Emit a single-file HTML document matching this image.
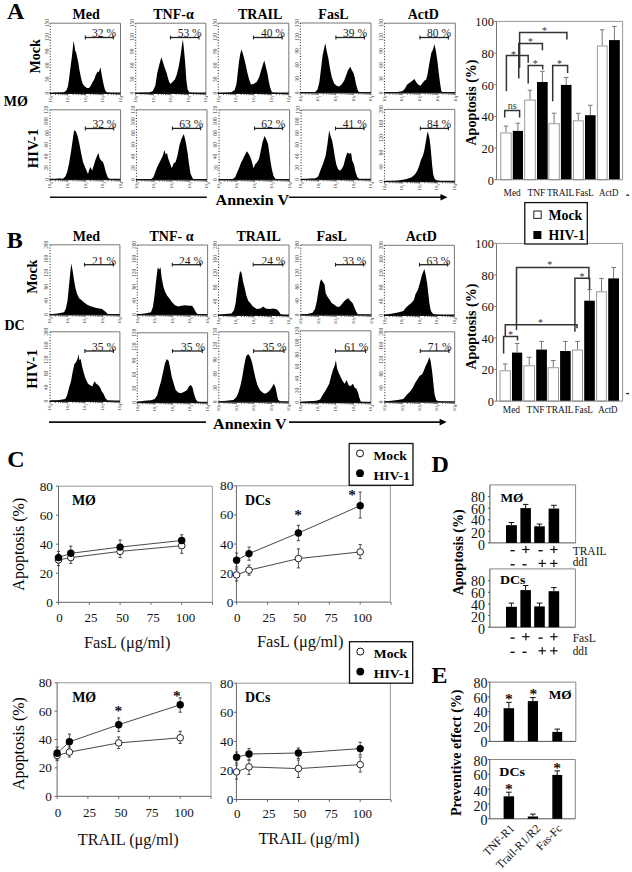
<!DOCTYPE html>
<html><head><meta charset="utf-8"><title>Figure</title>
<style>html,body{margin:0;padding:0;background:#fff;width:632px;height:872px;overflow:hidden}
svg text{font-family:"Liberation Serif",serif}</style></head>
<body>
<svg width="632" height="872" viewBox="0 0 632 872" style="position:absolute;left:0;top:0;font-family:'Liberation Serif',serif">
<rect x="0" y="0" width="632" height="872" fill="#fff"/>
<text x="6.9" y="18.9" font-size="24" font-weight="bold" text-anchor="start" fill="#000">A</text>
<text x="6.8" y="247.8" font-size="24" font-weight="bold" text-anchor="start" fill="#000">B</text>
<text x="7.2" y="467" font-size="24" font-weight="bold" text-anchor="start" fill="#000">C</text>
<text x="431.6" y="471.8" font-size="24" font-weight="bold" text-anchor="start" fill="#000">D</text>
<text x="431.6" y="682.8" font-size="24" font-weight="bold" text-anchor="start" fill="#000">E</text>
<text x="86.1" y="19.2" font-size="14" font-weight="bold" text-anchor="middle" fill="#000">Med</text>
<text x="173.5" y="19.2" font-size="14" font-weight="bold" text-anchor="middle" fill="#000">TNF-&#945;</text>
<text x="260.2" y="19.2" font-size="14" font-weight="bold" text-anchor="middle" fill="#000">TRAIL</text>
<text x="333.5" y="19.2" font-size="14" font-weight="bold" text-anchor="middle" fill="#000">FasL</text>
<text x="423.2" y="19.2" font-size="14" font-weight="bold" text-anchor="middle" fill="#000">ActD</text>
<text x="86.4" y="240.9" font-size="14" font-weight="bold" text-anchor="middle" fill="#000">Med</text>
<text x="171.5" y="240.9" font-size="14" font-weight="bold" text-anchor="middle" fill="#000">TNF- &#945;</text>
<text x="258.6" y="240.9" font-size="14" font-weight="bold" text-anchor="middle" fill="#000">TRAIL</text>
<text x="331.7" y="240.9" font-size="14" font-weight="bold" text-anchor="middle" fill="#000">FasL</text>
<text x="421.2" y="240.9" font-size="14" font-weight="bold" text-anchor="middle" fill="#000">ActD</text>
<text x="40" y="56.3" font-size="14" font-weight="bold" text-anchor="middle" fill="#000" transform="rotate(-90 40 56.3)">Mock</text>
<text x="38.3" y="148.5" font-size="14" font-weight="bold" text-anchor="middle" fill="#000" transform="rotate(-90 38.3 148.5)" textLength="39.5" lengthAdjust="spacingAndGlyphs">HIV-1</text>
<text x="3.7" y="106.2" font-size="14" font-weight="bold" text-anchor="start" fill="#000">M&#216;</text>
<text x="36.6" y="276.7" font-size="14" font-weight="bold" text-anchor="middle" fill="#000" transform="rotate(-90 36.6 276.7)">Mock</text>
<text x="36.6" y="369" font-size="14" font-weight="bold" text-anchor="middle" fill="#000" transform="rotate(-90 36.6 369)" textLength="39.5" lengthAdjust="spacingAndGlyphs">HIV-1</text>
<text x="4.4" y="330" font-size="14" font-weight="bold" text-anchor="start" fill="#000">DC</text>
<path d="M50.3 23.2 H120.5 V93.2" fill="none" stroke="#777" stroke-width="1"/>
<line x1="50.3" y1="23.2" x2="50.3" y2="93.2" stroke="#333" stroke-width="1.1" stroke-dasharray="1 1.75"/>
<path d="M50.8 93.2 L55 92.7 L60 92.6 L64 92.3 L66.3 90.4 L67.9 86.4 L69.1 78.5 L70.1 70.6 L71.1 62.7 L71.9 56.4 L72.7 49.2 L73.3 42.9 L73.6 41 L74.4 45.3 L75.2 50.8 L76.2 52.4 L76.8 55.6 L77.8 60.3 L78.6 64.3 L79.4 69.8 L80.2 73.8 L81 77.7 L82.2 82.5 L83.3 84.8 L84.9 86.4 L86.9 88 L88.9 88 L90.1 86.8 L91.3 84.8 L92.4 82.5 L93.6 80.5 L94.8 78.1 L95.6 75.3 L96.8 73 L97.6 71.4 L98.8 72.2 L99.6 69.8 L100.3 67.2 L101 70.6 L101.8 75.3 L102.7 80.1 L103.5 84 L104.7 88.8 L105.9 91.6 L107.5 92.6 L110 92.8 L120 93.2 Z" fill="#000"/>
<line x1="49.8" y1="93.2" x2="120.5" y2="93.2" stroke="#111" stroke-width="1.5"/>
<path d="M50.3 93.9V95.6M55.6 93.9V95.1M58.7 93.9V95.1M60.9 93.9V95.1M62.6 93.9V95.1M64 93.9V95.1M65.1 93.9V95.1M66.1 93.9V95.1M67 93.9V95.1M67.8 93.9V95.6M73.1 93.9V95.1M76.2 93.9V95.1M78.4 93.9V95.1M80.1 93.9V95.1M81.5 93.9V95.1M82.7 93.9V95.1M83.7 93.9V95.1M84.6 93.9V95.1M85.4 93.9V95.6M90.7 93.9V95.1M93.8 93.9V95.1M96 93.9V95.1M97.7 93.9V95.1M99.1 93.9V95.1M100.2 93.9V95.1M101.2 93.9V95.1M102.1 93.9V95.1M103 93.9V95.6M108.2 93.9V95.1M111.3 93.9V95.1M113.5 93.9V95.1M115.2 93.9V95.1M116.6 93.9V95.1M117.8 93.9V95.1M118.8 93.9V95.1M119.7 93.9V95.1M120.5 93.9V95.6" stroke="#444" stroke-width="0.8" fill="none"/>
<text x="51.6" y="102.5" font-size="4.9" fill="#333" transform="rotate(-90 51.6 102.5)">10</text>
<text x="52.9" y="97.8" font-size="3.6" fill="#444" transform="rotate(-90 52.9 97.8)">0</text>
<text x="69.1" y="102.5" font-size="4.9" fill="#333" transform="rotate(-90 69.1 102.5)">10</text>
<text x="70.4" y="97.8" font-size="3.6" fill="#444" transform="rotate(-90 70.4 97.8)">1</text>
<text x="86.7" y="102.5" font-size="4.9" fill="#333" transform="rotate(-90 86.7 102.5)">10</text>
<text x="88" y="97.8" font-size="3.6" fill="#444" transform="rotate(-90 88 97.8)">2</text>
<text x="104.2" y="102.5" font-size="4.9" fill="#333" transform="rotate(-90 104.2 102.5)">10</text>
<text x="105.5" y="97.8" font-size="3.6" fill="#444" transform="rotate(-90 105.5 97.8)">3</text>
<text x="121.8" y="102.5" font-size="4.9" fill="#333" transform="rotate(-90 121.8 102.5)">10</text>
<text x="123.1" y="97.8" font-size="3.6" fill="#444" transform="rotate(-90 123.1 97.8)">4</text>
<text x="48.7" y="93.2" font-size="5.4" fill="#444" text-anchor="middle" transform="rotate(-90 48.7 93.2)">0</text>
<text x="48.7" y="79.2" font-size="5.4" fill="#444" text-anchor="middle" transform="rotate(-90 48.7 79.2)">30</text>
<text x="48.7" y="65.2" font-size="5.4" fill="#444" text-anchor="middle" transform="rotate(-90 48.7 65.2)">60</text>
<text x="48.7" y="51.2" font-size="5.4" fill="#444" text-anchor="middle" transform="rotate(-90 48.7 51.2)">90</text>
<text x="48.7" y="37.2" font-size="5.4" fill="#444" text-anchor="middle" transform="rotate(-90 48.7 37.2)">120</text>
<text x="48.7" y="23.2" font-size="5.4" fill="#444" text-anchor="middle" transform="rotate(-90 48.7 23.2)">150</text>
<line x1="85.3" y1="37.5" x2="113.4" y2="37.5" stroke="#222" stroke-width="1.3"/>
<line x1="85.3" y1="35.6" x2="85.3" y2="39.4" stroke="#222" stroke-width="1.1"/>
<line x1="113.4" y1="35.6" x2="113.4" y2="39.4" stroke="#222" stroke-width="1.1"/>
<text x="116.1" y="37.3" font-size="13" text-anchor="end" fill="#222" textLength="24" lengthAdjust="spacingAndGlyphs">32 %</text>
<path d="M135.7 23.2 H205.9 V93.2" fill="none" stroke="#777" stroke-width="1"/>
<line x1="135.7" y1="23.2" x2="135.7" y2="93.2" stroke="#333" stroke-width="1.1" stroke-dasharray="1 1.75"/>
<path d="M136.2 93.2 L140 92.7 L149.6 92.4 L152.8 90.9 L155.3 85.8 L157.2 73.2 L159.1 65.6 L161.4 57.3 L163.2 63 L164.8 68.1 L166.7 73.2 L168 78.2 L169.2 82 L170.5 83.9 L172.4 82 L174.9 79.5 L176.8 74.4 L178.7 66.8 L180.6 55.4 L181.9 45.3 L182.9 39.6 L183.8 47.8 L185.1 61.8 L186.3 79.5 L187.6 89.6 L189.5 92.8 L205.4 93.2 Z" fill="#000"/>
<line x1="135.2" y1="93.2" x2="205.9" y2="93.2" stroke="#111" stroke-width="1.5"/>
<path d="M135.7 93.9V95.6M141 93.9V95.1M144.1 93.9V95.1M146.3 93.9V95.1M148 93.9V95.1M149.4 93.9V95.1M150.5 93.9V95.1M151.5 93.9V95.1M152.4 93.9V95.1M153.2 93.9V95.6M158.5 93.9V95.1M161.6 93.9V95.1M163.8 93.9V95.1M165.5 93.9V95.1M166.9 93.9V95.1M168.1 93.9V95.1M169.1 93.9V95.1M170 93.9V95.1M170.8 93.9V95.6M176.1 93.9V95.1M179.2 93.9V95.1M181.4 93.9V95.1M183.1 93.9V95.1M184.5 93.9V95.1M185.6 93.9V95.1M186.6 93.9V95.1M187.5 93.9V95.1M188.3 93.9V95.6M193.6 93.9V95.1M196.7 93.9V95.1M198.9 93.9V95.1M200.6 93.9V95.1M202 93.9V95.1M203.2 93.9V95.1M204.2 93.9V95.1M205.1 93.9V95.1M205.9 93.9V95.6" stroke="#444" stroke-width="0.8" fill="none"/>
<text x="137" y="102.5" font-size="4.9" fill="#333" transform="rotate(-90 137 102.5)">10</text>
<text x="138.3" y="97.8" font-size="3.6" fill="#444" transform="rotate(-90 138.3 97.8)">0</text>
<text x="154.6" y="102.5" font-size="4.9" fill="#333" transform="rotate(-90 154.6 102.5)">10</text>
<text x="155.8" y="97.8" font-size="3.6" fill="#444" transform="rotate(-90 155.8 97.8)">1</text>
<text x="172.1" y="102.5" font-size="4.9" fill="#333" transform="rotate(-90 172.1 102.5)">10</text>
<text x="173.4" y="97.8" font-size="3.6" fill="#444" transform="rotate(-90 173.4 97.8)">2</text>
<text x="189.7" y="102.5" font-size="4.9" fill="#333" transform="rotate(-90 189.7 102.5)">10</text>
<text x="190.9" y="97.8" font-size="3.6" fill="#444" transform="rotate(-90 190.9 97.8)">3</text>
<text x="207.2" y="102.5" font-size="4.9" fill="#333" transform="rotate(-90 207.2 102.5)">10</text>
<text x="208.5" y="97.8" font-size="3.6" fill="#444" transform="rotate(-90 208.5 97.8)">4</text>
<text x="134.1" y="93.2" font-size="5.4" fill="#444" text-anchor="middle" transform="rotate(-90 134.1 93.2)">0</text>
<text x="134.1" y="79.2" font-size="5.4" fill="#444" text-anchor="middle" transform="rotate(-90 134.1 79.2)">30</text>
<text x="134.1" y="65.2" font-size="5.4" fill="#444" text-anchor="middle" transform="rotate(-90 134.1 65.2)">60</text>
<text x="134.1" y="51.2" font-size="5.4" fill="#444" text-anchor="middle" transform="rotate(-90 134.1 51.2)">90</text>
<text x="134.1" y="37.2" font-size="5.4" fill="#444" text-anchor="middle" transform="rotate(-90 134.1 37.2)">120</text>
<text x="134.1" y="23.2" font-size="5.4" fill="#444" text-anchor="middle" transform="rotate(-90 134.1 23.2)">150</text>
<line x1="170.5" y1="37.5" x2="199" y2="37.5" stroke="#222" stroke-width="1.3"/>
<line x1="170.5" y1="35.6" x2="170.5" y2="39.4" stroke="#222" stroke-width="1.1"/>
<line x1="199" y1="35.6" x2="199" y2="39.4" stroke="#222" stroke-width="1.1"/>
<text x="201.7" y="37.3" font-size="13" text-anchor="end" fill="#222" textLength="24" lengthAdjust="spacingAndGlyphs">53 %</text>
<path d="M218.3 23.2 H288.8 V93.2" fill="none" stroke="#777" stroke-width="1"/>
<line x1="218.3" y1="23.2" x2="218.3" y2="93.2" stroke="#333" stroke-width="1.1" stroke-dasharray="1 1.75"/>
<path d="M218.8 93.2 L225 92.7 L230.7 92.4 L234.5 90.3 L236.4 84.6 L237.7 73.2 L239 61.8 L240.2 54.2 L241.5 49.4 L243.4 55.4 L245.3 63 L247.2 71.9 L249.1 79.5 L251 84.6 L253.5 83.9 L256.7 82 L259.2 77 L261.1 70.6 L263 64.3 L264.3 60.5 L265.5 65.6 L267.4 73.2 L268.7 80.8 L270 87.1 L271.9 92.2 L273.8 92.8 L288.3 93.2 Z" fill="#000"/>
<line x1="217.8" y1="93.2" x2="288.8" y2="93.2" stroke="#111" stroke-width="1.5"/>
<path d="M218.3 93.9V95.6M223.6 93.9V95.1M226.7 93.9V95.1M228.9 93.9V95.1M230.6 93.9V95.1M232 93.9V95.1M233.2 93.9V95.1M234.2 93.9V95.1M235.1 93.9V95.1M235.9 93.9V95.6M241.2 93.9V95.1M244.3 93.9V95.1M246.5 93.9V95.1M248.2 93.9V95.1M249.6 93.9V95.1M250.8 93.9V95.1M251.8 93.9V95.1M252.7 93.9V95.1M253.6 93.9V95.6M258.9 93.9V95.1M262 93.9V95.1M264.2 93.9V95.1M265.9 93.9V95.1M267.3 93.9V95.1M268.4 93.9V95.1M269.5 93.9V95.1M270.4 93.9V95.1M271.2 93.9V95.6M276.5 93.9V95.1M279.6 93.9V95.1M281.8 93.9V95.1M283.5 93.9V95.1M284.9 93.9V95.1M286.1 93.9V95.1M287.1 93.9V95.1M288 93.9V95.1M288.8 93.9V95.6" stroke="#444" stroke-width="0.8" fill="none"/>
<text x="219.6" y="102.5" font-size="4.9" fill="#333" transform="rotate(-90 219.6 102.5)">10</text>
<text x="220.9" y="97.8" font-size="3.6" fill="#444" transform="rotate(-90 220.9 97.8)">0</text>
<text x="237.2" y="102.5" font-size="4.9" fill="#333" transform="rotate(-90 237.2 102.5)">10</text>
<text x="238.5" y="97.8" font-size="3.6" fill="#444" transform="rotate(-90 238.5 97.8)">1</text>
<text x="254.9" y="102.5" font-size="4.9" fill="#333" transform="rotate(-90 254.9 102.5)">10</text>
<text x="256.2" y="97.8" font-size="3.6" fill="#444" transform="rotate(-90 256.2 97.8)">2</text>
<text x="272.5" y="102.5" font-size="4.9" fill="#333" transform="rotate(-90 272.5 102.5)">10</text>
<text x="273.8" y="97.8" font-size="3.6" fill="#444" transform="rotate(-90 273.8 97.8)">3</text>
<text x="290.1" y="102.5" font-size="4.9" fill="#333" transform="rotate(-90 290.1 102.5)">10</text>
<text x="291.4" y="97.8" font-size="3.6" fill="#444" transform="rotate(-90 291.4 97.8)">4</text>
<text x="216.7" y="93.2" font-size="5.4" fill="#444" text-anchor="middle" transform="rotate(-90 216.7 93.2)">0</text>
<text x="216.7" y="79.2" font-size="5.4" fill="#444" text-anchor="middle" transform="rotate(-90 216.7 79.2)">30</text>
<text x="216.7" y="65.2" font-size="5.4" fill="#444" text-anchor="middle" transform="rotate(-90 216.7 65.2)">60</text>
<text x="216.7" y="51.2" font-size="5.4" fill="#444" text-anchor="middle" transform="rotate(-90 216.7 51.2)">90</text>
<text x="216.7" y="37.2" font-size="5.4" fill="#444" text-anchor="middle" transform="rotate(-90 216.7 37.2)">120</text>
<text x="216.7" y="23.2" font-size="5.4" fill="#444" text-anchor="middle" transform="rotate(-90 216.7 23.2)">150</text>
<line x1="253.5" y1="37.5" x2="282.2" y2="37.5" stroke="#222" stroke-width="1.3"/>
<line x1="253.5" y1="35.6" x2="253.5" y2="39.4" stroke="#222" stroke-width="1.1"/>
<line x1="282.2" y1="35.6" x2="282.2" y2="39.4" stroke="#222" stroke-width="1.1"/>
<text x="284.9" y="37.3" font-size="13" text-anchor="end" fill="#222" textLength="24" lengthAdjust="spacingAndGlyphs">40 %</text>
<path d="M300.4 23 H371 V92.8" fill="none" stroke="#777" stroke-width="1"/>
<line x1="300.4" y1="23" x2="300.4" y2="92.8" stroke="#333" stroke-width="1.1" stroke-dasharray="1 1.75"/>
<path d="M300.9 92.8 L306 92.3 L315 92.2 L317.5 89.6 L319.4 82 L321.1 68.1 L322.6 55.4 L324.5 46.6 L325.4 43.4 L326.6 50.4 L328.3 58 L329.9 68.1 L331.7 77 L334 83.3 L336.5 85.8 L339 86.5 L341.6 84.6 L344.1 80.8 L346 75.7 L347.9 70.6 L350.2 66.8 L351.7 70 L353.6 73.2 L354.9 78.2 L356.1 84.6 L358 90.9 L359.9 92.4 L370.5 92.8 Z" fill="#000"/>
<line x1="299.9" y1="92.8" x2="371" y2="92.8" stroke="#111" stroke-width="1.5"/>
<path d="M300.4 93.5V95.2M305.7 93.5V94.7M308.8 93.5V94.7M311 93.5V94.7M312.7 93.5V94.7M314.1 93.5V94.7M315.3 93.5V94.7M316.3 93.5V94.7M317.2 93.5V94.7M318 93.5V95.2M323.4 93.5V94.7M326.5 93.5V94.7M328.7 93.5V94.7M330.4 93.5V94.7M331.8 93.5V94.7M333 93.5V94.7M334 93.5V94.7M334.9 93.5V94.7M335.7 93.5V95.2M341 93.5V94.7M344.1 93.5V94.7M346.3 93.5V94.7M348 93.5V94.7M349.4 93.5V94.7M350.6 93.5V94.7M351.6 93.5V94.7M352.5 93.5V94.7M353.4 93.5V95.2M358.7 93.5V94.7M361.8 93.5V94.7M364 93.5V94.7M365.7 93.5V94.7M367.1 93.5V94.7M368.3 93.5V94.7M369.3 93.5V94.7M370.2 93.5V94.7M371 93.5V95.2" stroke="#444" stroke-width="0.8" fill="none"/>
<text x="301.7" y="102.1" font-size="4.9" fill="#333" transform="rotate(-90 301.7 102.1)">10</text>
<text x="303" y="97.4" font-size="3.6" fill="#444" transform="rotate(-90 303 97.4)">0</text>
<text x="319.3" y="102.1" font-size="4.9" fill="#333" transform="rotate(-90 319.3 102.1)">10</text>
<text x="320.6" y="97.4" font-size="3.6" fill="#444" transform="rotate(-90 320.6 97.4)">1</text>
<text x="337" y="102.1" font-size="4.9" fill="#333" transform="rotate(-90 337 102.1)">10</text>
<text x="338.3" y="97.4" font-size="3.6" fill="#444" transform="rotate(-90 338.3 97.4)">2</text>
<text x="354.7" y="102.1" font-size="4.9" fill="#333" transform="rotate(-90 354.7 102.1)">10</text>
<text x="356" y="97.4" font-size="3.6" fill="#444" transform="rotate(-90 356 97.4)">3</text>
<text x="372.3" y="102.1" font-size="4.9" fill="#333" transform="rotate(-90 372.3 102.1)">10</text>
<text x="373.6" y="97.4" font-size="3.6" fill="#444" transform="rotate(-90 373.6 97.4)">4</text>
<text x="298.8" y="92.8" font-size="5.4" fill="#444" text-anchor="middle" transform="rotate(-90 298.8 92.8)">0</text>
<text x="298.8" y="78.8" font-size="5.4" fill="#444" text-anchor="middle" transform="rotate(-90 298.8 78.8)">30</text>
<text x="298.8" y="64.9" font-size="5.4" fill="#444" text-anchor="middle" transform="rotate(-90 298.8 64.9)">60</text>
<text x="298.8" y="50.9" font-size="5.4" fill="#444" text-anchor="middle" transform="rotate(-90 298.8 50.9)">90</text>
<text x="298.8" y="37" font-size="5.4" fill="#444" text-anchor="middle" transform="rotate(-90 298.8 37)">120</text>
<text x="298.8" y="23" font-size="5.4" fill="#444" text-anchor="middle" transform="rotate(-90 298.8 23)">150</text>
<line x1="335.9" y1="37.5" x2="364.4" y2="37.5" stroke="#222" stroke-width="1.3"/>
<line x1="335.9" y1="35.6" x2="335.9" y2="39.4" stroke="#222" stroke-width="1.1"/>
<line x1="364.4" y1="35.6" x2="364.4" y2="39.4" stroke="#222" stroke-width="1.1"/>
<text x="367.1" y="37.3" font-size="13" text-anchor="end" fill="#222" textLength="24" lengthAdjust="spacingAndGlyphs">39 %</text>
<path d="M384.5 23.2 H455.3 V92.8" fill="none" stroke="#777" stroke-width="1"/>
<line x1="384.5" y1="23.2" x2="384.5" y2="92.8" stroke="#333" stroke-width="1.1" stroke-dasharray="1 1.75"/>
<path d="M385 92.8 L390 92.3 L395.2 92.2 L402.2 91.3 L404.7 89 L407.2 84.6 L409.7 82.7 L412.3 80.8 L414.4 78.9 L416.1 82 L418 84.6 L420.5 85.8 L422.4 83.3 L424.3 80.8 L426.2 79.5 L427.5 74.4 L429.4 63 L431.3 52.9 L433.2 49.1 L434.4 44 L436 51.6 L437.5 61.8 L438.8 73.2 L440.1 83.3 L441.3 90.9 L443 92.4 L454.8 92.8 Z" fill="#000"/>
<line x1="384" y1="92.8" x2="455.3" y2="92.8" stroke="#111" stroke-width="1.5"/>
<path d="M384.5 93.5V95.2M389.8 93.5V94.7M392.9 93.5V94.7M395.2 93.5V94.7M396.9 93.5V94.7M398.3 93.5V94.7M399.5 93.5V94.7M400.5 93.5V94.7M401.4 93.5V94.7M402.2 93.5V95.2M407.5 93.5V94.7M410.6 93.5V94.7M412.9 93.5V94.7M414.6 93.5V94.7M416 93.5V94.7M417.2 93.5V94.7M418.2 93.5V94.7M419.1 93.5V94.7M419.9 93.5V95.2M425.2 93.5V94.7M428.3 93.5V94.7M430.6 93.5V94.7M432.3 93.5V94.7M433.7 93.5V94.7M434.9 93.5V94.7M435.9 93.5V94.7M436.8 93.5V94.7M437.6 93.5V95.2M442.9 93.5V94.7M446 93.5V94.7M448.3 93.5V94.7M450 93.5V94.7M451.4 93.5V94.7M452.6 93.5V94.7M453.6 93.5V94.7M454.5 93.5V94.7M455.3 93.5V95.2" stroke="#444" stroke-width="0.8" fill="none"/>
<text x="385.8" y="102.1" font-size="4.9" fill="#333" transform="rotate(-90 385.8 102.1)">10</text>
<text x="387.1" y="97.4" font-size="3.6" fill="#444" transform="rotate(-90 387.1 97.4)">0</text>
<text x="403.5" y="102.1" font-size="4.9" fill="#333" transform="rotate(-90 403.5 102.1)">10</text>
<text x="404.8" y="97.4" font-size="3.6" fill="#444" transform="rotate(-90 404.8 97.4)">1</text>
<text x="421.2" y="102.1" font-size="4.9" fill="#333" transform="rotate(-90 421.2 102.1)">10</text>
<text x="422.5" y="97.4" font-size="3.6" fill="#444" transform="rotate(-90 422.5 97.4)">2</text>
<text x="438.9" y="102.1" font-size="4.9" fill="#333" transform="rotate(-90 438.9 102.1)">10</text>
<text x="440.2" y="97.4" font-size="3.6" fill="#444" transform="rotate(-90 440.2 97.4)">3</text>
<text x="456.6" y="102.1" font-size="4.9" fill="#333" transform="rotate(-90 456.6 102.1)">10</text>
<text x="457.9" y="97.4" font-size="3.6" fill="#444" transform="rotate(-90 457.9 97.4)">4</text>
<text x="382.9" y="92.8" font-size="5.4" fill="#444" text-anchor="middle" transform="rotate(-90 382.9 92.8)">0</text>
<text x="382.9" y="78.9" font-size="5.4" fill="#444" text-anchor="middle" transform="rotate(-90 382.9 78.9)">30</text>
<text x="382.9" y="65" font-size="5.4" fill="#444" text-anchor="middle" transform="rotate(-90 382.9 65)">60</text>
<text x="382.9" y="51" font-size="5.4" fill="#444" text-anchor="middle" transform="rotate(-90 382.9 51)">90</text>
<text x="382.9" y="37.1" font-size="5.4" fill="#444" text-anchor="middle" transform="rotate(-90 382.9 37.1)">120</text>
<text x="382.9" y="23.2" font-size="5.4" fill="#444" text-anchor="middle" transform="rotate(-90 382.9 23.2)">150</text>
<line x1="419.9" y1="37.5" x2="448.4" y2="37.5" stroke="#222" stroke-width="1.3"/>
<line x1="419.9" y1="35.6" x2="419.9" y2="39.4" stroke="#222" stroke-width="1.1"/>
<line x1="448.4" y1="35.6" x2="448.4" y2="39.4" stroke="#222" stroke-width="1.1"/>
<text x="451.1" y="37.3" font-size="13" text-anchor="end" fill="#222" textLength="24" lengthAdjust="spacingAndGlyphs">80 %</text>
<path d="M50.1 109.8 H120.6 V179.5" fill="none" stroke="#777" stroke-width="1"/>
<line x1="50.1" y1="109.8" x2="50.1" y2="179.5" stroke="#333" stroke-width="1.1" stroke-dasharray="1 1.75"/>
<path d="M50.6 179.5 L55 178.9 L60 178.6 L62.7 178.9 L65.3 176.5 L67.2 172.1 L69.1 163.2 L71 151.8 L72.8 139.2 L74.1 130.3 L76 131.6 L77.7 136.6 L79.2 143 L81.1 153.1 L83 162 L85.5 168.3 L88 174 L89.3 169.6 L90.6 167 L92.1 170.8 L93.7 165.8 L95.6 159.4 L97.2 155.6 L98.4 153.1 L99.7 158.2 L101.3 160.7 L103 162 L104.2 165.8 L105.8 172.1 L107.7 177.2 L109.6 179 L120.1 179.5 Z" fill="#000"/>
<line x1="49.6" y1="179.5" x2="120.6" y2="179.5" stroke="#111" stroke-width="1.5"/>
<path d="M50.1 180.2V181.9M55.4 180.2V181.4M58.5 180.2V181.4M60.7 180.2V181.4M62.4 180.2V181.4M63.8 180.2V181.4M65 180.2V181.4M66 180.2V181.4M66.9 180.2V181.4M67.7 180.2V181.9M73 180.2V181.4M76.1 180.2V181.4M78.3 180.2V181.4M80 180.2V181.4M81.4 180.2V181.4M82.6 180.2V181.4M83.6 180.2V181.4M84.5 180.2V181.4M85.3 180.2V181.9M90.7 180.2V181.4M93.8 180.2V181.4M96 180.2V181.4M97.7 180.2V181.4M99.1 180.2V181.4M100.2 180.2V181.4M101.3 180.2V181.4M102.2 180.2V181.4M103 180.2V181.9M108.3 180.2V181.4M111.4 180.2V181.4M113.6 180.2V181.4M115.3 180.2V181.4M116.7 180.2V181.4M117.9 180.2V181.4M118.9 180.2V181.4M119.8 180.2V181.4M120.6 180.2V181.9" stroke="#444" stroke-width="0.8" fill="none"/>
<text x="51.4" y="188.8" font-size="4.9" fill="#333" transform="rotate(-90 51.4 188.8)">10</text>
<text x="52.7" y="184.1" font-size="3.6" fill="#444" transform="rotate(-90 52.7 184.1)">0</text>
<text x="69" y="188.8" font-size="4.9" fill="#333" transform="rotate(-90 69 188.8)">10</text>
<text x="70.3" y="184.1" font-size="3.6" fill="#444" transform="rotate(-90 70.3 184.1)">1</text>
<text x="86.6" y="188.8" font-size="4.9" fill="#333" transform="rotate(-90 86.6 188.8)">10</text>
<text x="87.9" y="184.1" font-size="3.6" fill="#444" transform="rotate(-90 87.9 184.1)">2</text>
<text x="104.3" y="188.8" font-size="4.9" fill="#333" transform="rotate(-90 104.3 188.8)">10</text>
<text x="105.6" y="184.1" font-size="3.6" fill="#444" transform="rotate(-90 105.6 184.1)">3</text>
<text x="121.9" y="188.8" font-size="4.9" fill="#333" transform="rotate(-90 121.9 188.8)">10</text>
<text x="123.2" y="184.1" font-size="3.6" fill="#444" transform="rotate(-90 123.2 184.1)">4</text>
<text x="48.5" y="179.5" font-size="5.4" fill="#444" text-anchor="middle" transform="rotate(-90 48.5 179.5)">0</text>
<text x="48.5" y="167.9" font-size="5.4" fill="#444" text-anchor="middle" transform="rotate(-90 48.5 167.9)">20</text>
<text x="48.5" y="156.3" font-size="5.4" fill="#444" text-anchor="middle" transform="rotate(-90 48.5 156.3)">40</text>
<text x="48.5" y="144.7" font-size="5.4" fill="#444" text-anchor="middle" transform="rotate(-90 48.5 144.7)">60</text>
<text x="48.5" y="133" font-size="5.4" fill="#444" text-anchor="middle" transform="rotate(-90 48.5 133)">80</text>
<text x="48.5" y="121.4" font-size="5.4" fill="#444" text-anchor="middle" transform="rotate(-90 48.5 121.4)">100</text>
<text x="48.5" y="109.8" font-size="5.4" fill="#444" text-anchor="middle" transform="rotate(-90 48.5 109.8)">120</text>
<line x1="85.3" y1="128.5" x2="113.7" y2="128.5" stroke="#222" stroke-width="1.3"/>
<line x1="85.3" y1="126.6" x2="85.3" y2="130.4" stroke="#222" stroke-width="1.1"/>
<line x1="113.7" y1="126.6" x2="113.7" y2="130.4" stroke="#222" stroke-width="1.1"/>
<text x="116.4" y="128.3" font-size="13" text-anchor="end" fill="#222" textLength="24" lengthAdjust="spacingAndGlyphs">32 %</text>
<path d="M136.5 109.8 H207 V179.7" fill="none" stroke="#777" stroke-width="1"/>
<line x1="136.5" y1="109.8" x2="136.5" y2="179.7" stroke="#333" stroke-width="1.1" stroke-dasharray="1 1.75"/>
<path d="M137 179.7 L142 179.2 L150.9 179.2 L153.4 177.2 L155.3 172.1 L157.2 167 L159.1 163.2 L161 159.4 L162.9 155.6 L164.4 149.9 L165.7 154.4 L167 153.1 L168.2 158.2 L169.9 163.2 L171.8 168.3 L173.7 163.2 L175.6 162 L177.5 155.6 L179.4 145.5 L181.3 139.2 L183.8 134.1 L185.7 141.7 L187.6 153.1 L188.9 163.2 L190.5 173.4 L192.7 178.4 L194.6 179.2 L206.5 179.7 Z" fill="#000"/>
<line x1="136" y1="179.7" x2="207" y2="179.7" stroke="#111" stroke-width="1.5"/>
<path d="M136.5 180.4V182.1M141.8 180.4V181.6M144.9 180.4V181.6M147.1 180.4V181.6M148.8 180.4V181.6M150.2 180.4V181.6M151.4 180.4V181.6M152.4 180.4V181.6M153.3 180.4V181.6M154.1 180.4V182.1M159.4 180.4V181.6M162.5 180.4V181.6M164.7 180.4V181.6M166.4 180.4V181.6M167.8 180.4V181.6M169 180.4V181.6M170 180.4V181.6M170.9 180.4V181.6M171.8 180.4V182.1M177.1 180.4V181.6M180.2 180.4V181.6M182.4 180.4V181.6M184.1 180.4V181.6M185.5 180.4V181.6M186.6 180.4V181.6M187.7 180.4V181.6M188.6 180.4V181.6M189.4 180.4V182.1M194.7 180.4V181.6M197.8 180.4V181.6M200 180.4V181.6M201.7 180.4V181.6M203.1 180.4V181.6M204.3 180.4V181.6M205.3 180.4V181.6M206.2 180.4V181.6M207 180.4V182.1" stroke="#444" stroke-width="0.8" fill="none"/>
<text x="137.8" y="189" font-size="4.9" fill="#333" transform="rotate(-90 137.8 189)">10</text>
<text x="139.1" y="184.3" font-size="3.6" fill="#444" transform="rotate(-90 139.1 184.3)">0</text>
<text x="155.4" y="189" font-size="4.9" fill="#333" transform="rotate(-90 155.4 189)">10</text>
<text x="156.7" y="184.3" font-size="3.6" fill="#444" transform="rotate(-90 156.7 184.3)">1</text>
<text x="173.1" y="189" font-size="4.9" fill="#333" transform="rotate(-90 173.1 189)">10</text>
<text x="174.3" y="184.3" font-size="3.6" fill="#444" transform="rotate(-90 174.3 184.3)">2</text>
<text x="190.7" y="189" font-size="4.9" fill="#333" transform="rotate(-90 190.7 189)">10</text>
<text x="192" y="184.3" font-size="3.6" fill="#444" transform="rotate(-90 192 184.3)">3</text>
<text x="208.3" y="189" font-size="4.9" fill="#333" transform="rotate(-90 208.3 189)">10</text>
<text x="209.6" y="184.3" font-size="3.6" fill="#444" transform="rotate(-90 209.6 184.3)">4</text>
<text x="134.9" y="179.7" font-size="5.4" fill="#444" text-anchor="middle" transform="rotate(-90 134.9 179.7)">0</text>
<text x="134.9" y="168" font-size="5.4" fill="#444" text-anchor="middle" transform="rotate(-90 134.9 168)">20</text>
<text x="134.9" y="156.4" font-size="5.4" fill="#444" text-anchor="middle" transform="rotate(-90 134.9 156.4)">40</text>
<text x="134.9" y="144.8" font-size="5.4" fill="#444" text-anchor="middle" transform="rotate(-90 134.9 144.8)">60</text>
<text x="134.9" y="133.1" font-size="5.4" fill="#444" text-anchor="middle" transform="rotate(-90 134.9 133.1)">80</text>
<text x="134.9" y="121.4" font-size="5.4" fill="#444" text-anchor="middle" transform="rotate(-90 134.9 121.4)">100</text>
<text x="134.9" y="109.8" font-size="5.4" fill="#444" text-anchor="middle" transform="rotate(-90 134.9 109.8)">120</text>
<line x1="172.4" y1="128.4" x2="200.6" y2="128.4" stroke="#222" stroke-width="1.3"/>
<line x1="172.4" y1="126.5" x2="172.4" y2="130.3" stroke="#222" stroke-width="1.1"/>
<line x1="200.6" y1="126.5" x2="200.6" y2="130.3" stroke="#222" stroke-width="1.1"/>
<text x="203.3" y="128.2" font-size="13" text-anchor="end" fill="#222" textLength="24" lengthAdjust="spacingAndGlyphs">63 %</text>
<path d="M219.1 109.8 H289.6 V179.7" fill="none" stroke="#777" stroke-width="1"/>
<line x1="219.1" y1="109.8" x2="219.1" y2="179.7" stroke="#333" stroke-width="1.1" stroke-dasharray="1 1.75"/>
<path d="M219.6 179.7 L225 179.2 L232.6 179.1 L235.2 177.2 L237 172.7 L239 168.3 L240.8 163.2 L242.7 159.4 L244.6 155.6 L246.9 151.2 L248.7 153.7 L250.3 156.9 L252 162 L253.5 168.3 L255.4 163.9 L257.3 162 L259.2 158.2 L260.8 150.6 L262.6 141.7 L264.6 136 L266.2 139.2 L268.1 144.2 L269.3 153.1 L270.6 162 L271.9 169.6 L273.5 175.9 L275.7 179.1 L289.1 179.7 Z" fill="#000"/>
<line x1="218.6" y1="179.7" x2="289.6" y2="179.7" stroke="#111" stroke-width="1.5"/>
<path d="M219.1 180.4V182.1M224.4 180.4V181.6M227.5 180.4V181.6M229.7 180.4V181.6M231.4 180.4V181.6M232.8 180.4V181.6M234 180.4V181.6M235 180.4V181.6M235.9 180.4V181.6M236.7 180.4V182.1M242 180.4V181.6M245.1 180.4V181.6M247.3 180.4V181.6M249 180.4V181.6M250.4 180.4V181.6M251.6 180.4V181.6M252.6 180.4V181.6M253.5 180.4V181.6M254.4 180.4V182.1M259.7 180.4V181.6M262.8 180.4V181.6M265 180.4V181.6M266.7 180.4V181.6M268.1 180.4V181.6M269.2 180.4V181.6M270.3 180.4V181.6M271.2 180.4V181.6M272 180.4V182.1M277.3 180.4V181.6M280.4 180.4V181.6M282.6 180.4V181.6M284.3 180.4V181.6M285.7 180.4V181.6M286.9 180.4V181.6M287.9 180.4V181.6M288.8 180.4V181.6M289.6 180.4V182.1" stroke="#444" stroke-width="0.8" fill="none"/>
<text x="220.4" y="189" font-size="4.9" fill="#333" transform="rotate(-90 220.4 189)">10</text>
<text x="221.7" y="184.3" font-size="3.6" fill="#444" transform="rotate(-90 221.7 184.3)">0</text>
<text x="238" y="189" font-size="4.9" fill="#333" transform="rotate(-90 238 189)">10</text>
<text x="239.3" y="184.3" font-size="3.6" fill="#444" transform="rotate(-90 239.3 184.3)">1</text>
<text x="255.7" y="189" font-size="4.9" fill="#333" transform="rotate(-90 255.7 189)">10</text>
<text x="257" y="184.3" font-size="3.6" fill="#444" transform="rotate(-90 257 184.3)">2</text>
<text x="273.3" y="189" font-size="4.9" fill="#333" transform="rotate(-90 273.3 189)">10</text>
<text x="274.6" y="184.3" font-size="3.6" fill="#444" transform="rotate(-90 274.6 184.3)">3</text>
<text x="290.9" y="189" font-size="4.9" fill="#333" transform="rotate(-90 290.9 189)">10</text>
<text x="292.2" y="184.3" font-size="3.6" fill="#444" transform="rotate(-90 292.2 184.3)">4</text>
<text x="217.5" y="179.7" font-size="5.4" fill="#444" text-anchor="middle" transform="rotate(-90 217.5 179.7)">0</text>
<text x="217.5" y="168" font-size="5.4" fill="#444" text-anchor="middle" transform="rotate(-90 217.5 168)">20</text>
<text x="217.5" y="156.4" font-size="5.4" fill="#444" text-anchor="middle" transform="rotate(-90 217.5 156.4)">40</text>
<text x="217.5" y="144.8" font-size="5.4" fill="#444" text-anchor="middle" transform="rotate(-90 217.5 144.8)">60</text>
<text x="217.5" y="133.1" font-size="5.4" fill="#444" text-anchor="middle" transform="rotate(-90 217.5 133.1)">80</text>
<text x="217.5" y="121.4" font-size="5.4" fill="#444" text-anchor="middle" transform="rotate(-90 217.5 121.4)">100</text>
<text x="217.5" y="109.8" font-size="5.4" fill="#444" text-anchor="middle" transform="rotate(-90 217.5 109.8)">120</text>
<line x1="254.5" y1="128.4" x2="282.6" y2="128.4" stroke="#222" stroke-width="1.3"/>
<line x1="254.5" y1="126.5" x2="254.5" y2="130.3" stroke="#222" stroke-width="1.1"/>
<line x1="282.6" y1="126.5" x2="282.6" y2="130.3" stroke="#222" stroke-width="1.1"/>
<text x="285.3" y="128.2" font-size="13" text-anchor="end" fill="#222" textLength="24" lengthAdjust="spacingAndGlyphs">62 %</text>
<path d="M301.1 110 H370.9 V179.4" fill="none" stroke="#777" stroke-width="1"/>
<line x1="301.1" y1="110" x2="301.1" y2="179.4" stroke="#333" stroke-width="1.1" stroke-dasharray="1 1.75"/>
<path d="M301.6 179.4 L306 178.9 L312 178.6 L315 178.6 L318.2 176.5 L320.7 169.6 L323.2 163.2 L325.7 155.6 L327.6 143 L329.2 130.3 L330.4 135.4 L332.1 140.4 L333.3 146.8 L334.6 155.6 L336.3 164.5 L338 168.9 L339.7 170.8 L341.6 168.9 L343.5 165.8 L345.4 158.2 L347.3 152.5 L349.2 153.7 L351.1 153.1 L352.3 160.7 L354 164.5 L355.5 172.1 L357.4 177.2 L359.3 178.9 L370.4 179.4 Z" fill="#000"/>
<line x1="300.6" y1="179.4" x2="370.9" y2="179.4" stroke="#111" stroke-width="1.5"/>
<path d="M301.1 180.1V181.8M306.4 180.1V181.3M309.4 180.1V181.3M311.6 180.1V181.3M313.3 180.1V181.3M314.7 180.1V181.3M315.8 180.1V181.3M316.9 180.1V181.3M317.8 180.1V181.3M318.6 180.1V181.8M323.8 180.1V181.3M326.9 180.1V181.3M329.1 180.1V181.3M330.7 180.1V181.3M332.1 180.1V181.3M333.3 180.1V181.3M334.3 180.1V181.3M335.2 180.1V181.3M336 180.1V181.8M341.3 180.1V181.3M344.3 180.1V181.3M346.5 180.1V181.3M348.2 180.1V181.3M349.6 180.1V181.3M350.7 180.1V181.3M351.8 180.1V181.3M352.7 180.1V181.3M353.4 180.1V181.8M358.7 180.1V181.3M361.8 180.1V181.3M364 180.1V181.3M365.6 180.1V181.3M367 180.1V181.3M368.2 180.1V181.3M369.2 180.1V181.3M370.1 180.1V181.3M370.9 180.1V181.8" stroke="#444" stroke-width="0.8" fill="none"/>
<text x="302.4" y="188.7" font-size="4.9" fill="#333" transform="rotate(-90 302.4 188.7)">10</text>
<text x="303.7" y="184" font-size="3.6" fill="#444" transform="rotate(-90 303.7 184)">0</text>
<text x="319.9" y="188.7" font-size="4.9" fill="#333" transform="rotate(-90 319.9 188.7)">10</text>
<text x="321.2" y="184" font-size="3.6" fill="#444" transform="rotate(-90 321.2 184)">1</text>
<text x="337.3" y="188.7" font-size="4.9" fill="#333" transform="rotate(-90 337.3 188.7)">10</text>
<text x="338.6" y="184" font-size="3.6" fill="#444" transform="rotate(-90 338.6 184)">2</text>
<text x="354.8" y="188.7" font-size="4.9" fill="#333" transform="rotate(-90 354.8 188.7)">10</text>
<text x="356.1" y="184" font-size="3.6" fill="#444" transform="rotate(-90 356.1 184)">3</text>
<text x="372.2" y="188.7" font-size="4.9" fill="#333" transform="rotate(-90 372.2 188.7)">10</text>
<text x="373.5" y="184" font-size="3.6" fill="#444" transform="rotate(-90 373.5 184)">4</text>
<text x="299.5" y="179.4" font-size="5.4" fill="#444" text-anchor="middle" transform="rotate(-90 299.5 179.4)">0</text>
<text x="299.5" y="167.8" font-size="5.4" fill="#444" text-anchor="middle" transform="rotate(-90 299.5 167.8)">20</text>
<text x="299.5" y="156.3" font-size="5.4" fill="#444" text-anchor="middle" transform="rotate(-90 299.5 156.3)">40</text>
<text x="299.5" y="144.7" font-size="5.4" fill="#444" text-anchor="middle" transform="rotate(-90 299.5 144.7)">60</text>
<text x="299.5" y="133.1" font-size="5.4" fill="#444" text-anchor="middle" transform="rotate(-90 299.5 133.1)">80</text>
<text x="299.5" y="121.6" font-size="5.4" fill="#444" text-anchor="middle" transform="rotate(-90 299.5 121.6)">100</text>
<text x="299.5" y="110" font-size="5.4" fill="#444" text-anchor="middle" transform="rotate(-90 299.5 110)">120</text>
<line x1="335.5" y1="128.4" x2="364.1" y2="128.4" stroke="#222" stroke-width="1.3"/>
<line x1="335.5" y1="126.5" x2="335.5" y2="130.3" stroke="#222" stroke-width="1.1"/>
<line x1="364.1" y1="126.5" x2="364.1" y2="130.3" stroke="#222" stroke-width="1.1"/>
<text x="366.8" y="128.2" font-size="13" text-anchor="end" fill="#222" textLength="24" lengthAdjust="spacingAndGlyphs">41 %</text>
<path d="M384.5 109.4 H454.8 V181.4" fill="none" stroke="#777" stroke-width="1"/>
<line x1="384.5" y1="109.4" x2="384.5" y2="181.4" stroke="#333" stroke-width="1.1" stroke-dasharray="1 1.75"/>
<path d="M385 181.4 L390 180.9 L396.5 180.8 L401.5 180.1 L406.6 179 L411.6 177.2 L414.8 174.6 L417.3 170.8 L419.2 165.8 L421.1 159.4 L423 155.6 L424.3 150.6 L425.8 141.7 L427.1 134.1 L427.8 131.6 L429.4 137.9 L430.4 145.5 L431.3 155.6 L432.2 165.8 L433.2 174.6 L434.7 179 L437 180.6 L440.8 180.9 L454.3 181.4 Z" fill="#000"/>
<line x1="384" y1="181.4" x2="454.8" y2="181.4" stroke="#111" stroke-width="1.5"/>
<path d="M384.5 182.1V183.8M389.8 182.1V183.3M392.9 182.1V183.3M395.1 182.1V183.3M396.8 182.1V183.3M398.2 182.1V183.3M399.4 182.1V183.3M400.4 182.1V183.3M401.3 182.1V183.3M402.1 182.1V183.8M407.4 182.1V183.3M410.5 182.1V183.3M412.7 182.1V183.3M414.4 182.1V183.3M415.8 182.1V183.3M416.9 182.1V183.3M417.9 182.1V183.3M418.8 182.1V183.3M419.6 182.1V183.8M424.9 182.1V183.3M428 182.1V183.3M430.2 182.1V183.3M431.9 182.1V183.3M433.3 182.1V183.3M434.5 182.1V183.3M435.5 182.1V183.3M436.4 182.1V183.3M437.2 182.1V183.8M442.5 182.1V183.3M445.6 182.1V183.3M447.8 182.1V183.3M449.5 182.1V183.3M450.9 182.1V183.3M452.1 182.1V183.3M453.1 182.1V183.3M454 182.1V183.3M454.8 182.1V183.8" stroke="#444" stroke-width="0.8" fill="none"/>
<text x="385.8" y="190.7" font-size="4.9" fill="#333" transform="rotate(-90 385.8 190.7)">10</text>
<text x="387.1" y="186" font-size="3.6" fill="#444" transform="rotate(-90 387.1 186)">0</text>
<text x="403.4" y="190.7" font-size="4.9" fill="#333" transform="rotate(-90 403.4 190.7)">10</text>
<text x="404.7" y="186" font-size="3.6" fill="#444" transform="rotate(-90 404.7 186)">1</text>
<text x="420.9" y="190.7" font-size="4.9" fill="#333" transform="rotate(-90 420.9 190.7)">10</text>
<text x="422.2" y="186" font-size="3.6" fill="#444" transform="rotate(-90 422.2 186)">2</text>
<text x="438.5" y="190.7" font-size="4.9" fill="#333" transform="rotate(-90 438.5 190.7)">10</text>
<text x="439.8" y="186" font-size="3.6" fill="#444" transform="rotate(-90 439.8 186)">3</text>
<text x="456.1" y="190.7" font-size="4.9" fill="#333" transform="rotate(-90 456.1 190.7)">10</text>
<text x="457.4" y="186" font-size="3.6" fill="#444" transform="rotate(-90 457.4 186)">4</text>
<text x="382.9" y="181.4" font-size="5.4" fill="#444" text-anchor="middle" transform="rotate(-90 382.9 181.4)">0</text>
<text x="382.9" y="167" font-size="5.4" fill="#444" text-anchor="middle" transform="rotate(-90 382.9 167)">40</text>
<text x="382.9" y="152.6" font-size="5.4" fill="#444" text-anchor="middle" transform="rotate(-90 382.9 152.6)">80</text>
<text x="382.9" y="138.2" font-size="5.4" fill="#444" text-anchor="middle" transform="rotate(-90 382.9 138.2)">120</text>
<text x="382.9" y="123.8" font-size="5.4" fill="#444" text-anchor="middle" transform="rotate(-90 382.9 123.8)">160</text>
<text x="382.9" y="109.4" font-size="5.4" fill="#444" text-anchor="middle" transform="rotate(-90 382.9 109.4)">200</text>
<line x1="420.3" y1="128.4" x2="448.4" y2="128.4" stroke="#222" stroke-width="1.3"/>
<line x1="420.3" y1="126.5" x2="420.3" y2="130.3" stroke="#222" stroke-width="1.1"/>
<line x1="448.4" y1="126.5" x2="448.4" y2="130.3" stroke="#222" stroke-width="1.1"/>
<text x="451.1" y="128.2" font-size="13" text-anchor="end" fill="#222" textLength="24" lengthAdjust="spacingAndGlyphs">84 %</text>
<path d="M50.1 244.8 H119.9 V314.7" fill="none" stroke="#777" stroke-width="1"/>
<line x1="50.1" y1="244.8" x2="50.1" y2="314.7" stroke="#333" stroke-width="1.1" stroke-dasharray="1 1.75"/>
<path d="M50.6 314.7 L50.7 314.2 L57.7 313.4 L64 312.2 L65.9 308.4 L67.5 300.8 L68.8 288.1 L70.1 274.2 L71.3 263.4 L72.6 270.4 L73.9 279.2 L75.4 288.1 L77.3 294.4 L79.2 298.2 L81.7 300.3 L84.2 302.5 L86.8 304.4 L89.9 305.9 L93.1 307 L96.3 307.9 L99.4 308.5 L102 309 L105.2 311.5 L108 314.2 L119.4 314.7 Z" fill="#000"/>
<line x1="49.6" y1="314.7" x2="119.9" y2="314.7" stroke="#111" stroke-width="1.5"/>
<path d="M50.1 315.4V317.1M55.4 315.4V316.6M58.4 315.4V316.6M60.6 315.4V316.6M62.3 315.4V316.6M63.7 315.4V316.6M64.8 315.4V316.6M65.9 315.4V316.6M66.8 315.4V316.6M67.6 315.4V317.1M72.8 315.4V316.6M75.9 315.4V316.6M78.1 315.4V316.6M79.7 315.4V316.6M81.1 315.4V316.6M82.3 315.4V316.6M83.3 315.4V316.6M84.2 315.4V316.6M85 315.4V317.1M90.3 315.4V316.6M93.3 315.4V316.6M95.5 315.4V316.6M97.2 315.4V316.6M98.6 315.4V316.6M99.7 315.4V316.6M100.8 315.4V316.6M101.7 315.4V316.6M102.5 315.4V317.1M107.7 315.4V316.6M110.8 315.4V316.6M113 315.4V316.6M114.6 315.4V316.6M116 315.4V316.6M117.2 315.4V316.6M118.2 315.4V316.6M119.1 315.4V316.6M119.9 315.4V317.1" stroke="#444" stroke-width="0.8" fill="none"/>
<text x="51.4" y="324" font-size="4.9" fill="#333" transform="rotate(-90 51.4 324)">10</text>
<text x="52.7" y="319.3" font-size="3.6" fill="#444" transform="rotate(-90 52.7 319.3)">0</text>
<text x="68.9" y="324" font-size="4.9" fill="#333" transform="rotate(-90 68.9 324)">10</text>
<text x="70.2" y="319.3" font-size="3.6" fill="#444" transform="rotate(-90 70.2 319.3)">1</text>
<text x="86.3" y="324" font-size="4.9" fill="#333" transform="rotate(-90 86.3 324)">10</text>
<text x="87.6" y="319.3" font-size="3.6" fill="#444" transform="rotate(-90 87.6 319.3)">2</text>
<text x="103.8" y="324" font-size="4.9" fill="#333" transform="rotate(-90 103.8 324)">10</text>
<text x="105.1" y="319.3" font-size="3.6" fill="#444" transform="rotate(-90 105.1 319.3)">3</text>
<text x="121.2" y="324" font-size="4.9" fill="#333" transform="rotate(-90 121.2 324)">10</text>
<text x="122.5" y="319.3" font-size="3.6" fill="#444" transform="rotate(-90 122.5 319.3)">4</text>
<text x="48.5" y="314.7" font-size="5.4" fill="#444" text-anchor="middle" transform="rotate(-90 48.5 314.7)">0</text>
<text x="48.5" y="300.7" font-size="5.4" fill="#444" text-anchor="middle" transform="rotate(-90 48.5 300.7)">40</text>
<text x="48.5" y="286.7" font-size="5.4" fill="#444" text-anchor="middle" transform="rotate(-90 48.5 286.7)">80</text>
<text x="48.5" y="272.8" font-size="5.4" fill="#444" text-anchor="middle" transform="rotate(-90 48.5 272.8)">120</text>
<text x="48.5" y="258.8" font-size="5.4" fill="#444" text-anchor="middle" transform="rotate(-90 48.5 258.8)">160</text>
<text x="48.5" y="244.8" font-size="5.4" fill="#444" text-anchor="middle" transform="rotate(-90 48.5 244.8)">200</text>
<line x1="84.5" y1="264.7" x2="113.4" y2="264.7" stroke="#222" stroke-width="1.3"/>
<line x1="84.5" y1="262.8" x2="84.5" y2="266.6" stroke="#222" stroke-width="1.1"/>
<line x1="113.4" y1="262.8" x2="113.4" y2="266.6" stroke="#222" stroke-width="1.1"/>
<text x="116.1" y="264.5" font-size="13" text-anchor="end" fill="#222" textLength="24" lengthAdjust="spacingAndGlyphs">21 %</text>
<path d="M137.3 245 H207.6 V314.7" fill="none" stroke="#777" stroke-width="1"/>
<line x1="137.3" y1="245" x2="137.3" y2="314.7" stroke="#333" stroke-width="1.1" stroke-dasharray="1 1.75"/>
<path d="M137.8 314.7 L137.7 314.2 L144.7 313.4 L151 312.2 L152.9 307.1 L154.5 295.7 L156 281.8 L157.3 270.4 L157.9 267.2 L159.2 269.7 L160.5 267.2 L161.7 278 L163.4 286.8 L165.2 291.9 L167.2 295.7 L169.3 298.2 L171.9 302 L175 305.2 L178.2 306.5 L181.4 305.8 L185.2 305.2 L189 305.8 L192.1 305.8 L194 308.4 L195.9 312.2 L197.8 314.2 L207.1 314.7 Z" fill="#000"/>
<line x1="136.8" y1="314.7" x2="207.6" y2="314.7" stroke="#111" stroke-width="1.5"/>
<path d="M137.3 315.4V317.1M142.6 315.4V316.6M145.7 315.4V316.6M147.9 315.4V316.6M149.6 315.4V316.6M151 315.4V316.6M152.2 315.4V316.6M153.2 315.4V316.6M154.1 315.4V316.6M154.9 315.4V317.1M160.2 315.4V316.6M163.3 315.4V316.6M165.5 315.4V316.6M167.2 315.4V316.6M168.6 315.4V316.6M169.7 315.4V316.6M170.7 315.4V316.6M171.6 315.4V316.6M172.4 315.4V317.1M177.7 315.4V316.6M180.8 315.4V316.6M183 315.4V316.6M184.7 315.4V316.6M186.1 315.4V316.6M187.3 315.4V316.6M188.3 315.4V316.6M189.2 315.4V316.6M190 315.4V317.1M195.3 315.4V316.6M198.4 315.4V316.6M200.6 315.4V316.6M202.3 315.4V316.6M203.7 315.4V316.6M204.9 315.4V316.6M205.9 315.4V316.6M206.8 315.4V316.6M207.6 315.4V317.1" stroke="#444" stroke-width="0.8" fill="none"/>
<text x="138.6" y="324" font-size="4.9" fill="#333" transform="rotate(-90 138.6 324)">10</text>
<text x="139.9" y="319.3" font-size="3.6" fill="#444" transform="rotate(-90 139.9 319.3)">0</text>
<text x="156.2" y="324" font-size="4.9" fill="#333" transform="rotate(-90 156.2 324)">10</text>
<text x="157.5" y="319.3" font-size="3.6" fill="#444" transform="rotate(-90 157.5 319.3)">1</text>
<text x="173.8" y="324" font-size="4.9" fill="#333" transform="rotate(-90 173.8 324)">10</text>
<text x="175" y="319.3" font-size="3.6" fill="#444" transform="rotate(-90 175 319.3)">2</text>
<text x="191.3" y="324" font-size="4.9" fill="#333" transform="rotate(-90 191.3 324)">10</text>
<text x="192.6" y="319.3" font-size="3.6" fill="#444" transform="rotate(-90 192.6 319.3)">3</text>
<text x="208.9" y="324" font-size="4.9" fill="#333" transform="rotate(-90 208.9 324)">10</text>
<text x="210.2" y="319.3" font-size="3.6" fill="#444" transform="rotate(-90 210.2 319.3)">4</text>
<text x="135.7" y="314.7" font-size="5.4" fill="#444" text-anchor="middle" transform="rotate(-90 135.7 314.7)">0</text>
<text x="135.7" y="300.8" font-size="5.4" fill="#444" text-anchor="middle" transform="rotate(-90 135.7 300.8)">40</text>
<text x="135.7" y="286.8" font-size="5.4" fill="#444" text-anchor="middle" transform="rotate(-90 135.7 286.8)">80</text>
<text x="135.7" y="272.9" font-size="5.4" fill="#444" text-anchor="middle" transform="rotate(-90 135.7 272.9)">120</text>
<text x="135.7" y="258.9" font-size="5.4" fill="#444" text-anchor="middle" transform="rotate(-90 135.7 258.9)">160</text>
<text x="135.7" y="245" font-size="5.4" fill="#444" text-anchor="middle" transform="rotate(-90 135.7 245)">200</text>
<line x1="172.3" y1="264.7" x2="200.4" y2="264.7" stroke="#222" stroke-width="1.3"/>
<line x1="172.3" y1="262.8" x2="172.3" y2="266.6" stroke="#222" stroke-width="1.1"/>
<line x1="200.4" y1="262.8" x2="200.4" y2="266.6" stroke="#222" stroke-width="1.1"/>
<text x="203.1" y="264.5" font-size="13" text-anchor="end" fill="#222" textLength="24" lengthAdjust="spacingAndGlyphs">24 %</text>
<path d="M218.5 245 H289 V315.3" fill="none" stroke="#777" stroke-width="1"/>
<line x1="218.5" y1="245" x2="218.5" y2="315.3" stroke="#333" stroke-width="1.1" stroke-dasharray="1 1.75"/>
<path d="M219 315.3 L219.4 314.7 L225.1 314 L231.5 313.4 L234 310.3 L235.6 303.3 L237.2 290.6 L238.8 278 L240.1 271 L241.6 272.9 L243.1 281.8 L244.7 288.1 L246.4 295.7 L248.2 300.8 L250.4 303.3 L253 306.5 L256.8 309 L260.6 308.4 L263.1 306.5 L265.6 308.4 L269.4 309 L273.2 308.4 L277 309.6 L278.9 311.5 L280.8 314.4 L288.5 315.3 Z" fill="#000"/>
<line x1="218" y1="315.3" x2="289" y2="315.3" stroke="#111" stroke-width="1.5"/>
<path d="M218.5 316V317.7M223.8 316V317.2M226.9 316V317.2M229.1 316V317.2M230.8 316V317.2M232.2 316V317.2M233.4 316V317.2M234.4 316V317.2M235.3 316V317.2M236.1 316V317.7M241.4 316V317.2M244.5 316V317.2M246.7 316V317.2M248.4 316V317.2M249.8 316V317.2M251 316V317.2M252 316V317.2M252.9 316V317.2M253.8 316V317.7M259.1 316V317.2M262.2 316V317.2M264.4 316V317.2M266.1 316V317.2M267.5 316V317.2M268.6 316V317.2M269.7 316V317.2M270.6 316V317.2M271.4 316V317.7M276.7 316V317.2M279.8 316V317.2M282 316V317.2M283.7 316V317.2M285.1 316V317.2M286.3 316V317.2M287.3 316V317.2M288.2 316V317.2M289 316V317.7" stroke="#444" stroke-width="0.8" fill="none"/>
<text x="219.8" y="324.6" font-size="4.9" fill="#333" transform="rotate(-90 219.8 324.6)">10</text>
<text x="221.1" y="319.9" font-size="3.6" fill="#444" transform="rotate(-90 221.1 319.9)">0</text>
<text x="237.4" y="324.6" font-size="4.9" fill="#333" transform="rotate(-90 237.4 324.6)">10</text>
<text x="238.7" y="319.9" font-size="3.6" fill="#444" transform="rotate(-90 238.7 319.9)">1</text>
<text x="255.1" y="324.6" font-size="4.9" fill="#333" transform="rotate(-90 255.1 324.6)">10</text>
<text x="256.4" y="319.9" font-size="3.6" fill="#444" transform="rotate(-90 256.4 319.9)">2</text>
<text x="272.7" y="324.6" font-size="4.9" fill="#333" transform="rotate(-90 272.7 324.6)">10</text>
<text x="274" y="319.9" font-size="3.6" fill="#444" transform="rotate(-90 274 319.9)">3</text>
<text x="290.3" y="324.6" font-size="4.9" fill="#333" transform="rotate(-90 290.3 324.6)">10</text>
<text x="291.6" y="319.9" font-size="3.6" fill="#444" transform="rotate(-90 291.6 319.9)">4</text>
<text x="216.9" y="315.3" font-size="5.4" fill="#444" text-anchor="middle" transform="rotate(-90 216.9 315.3)">0</text>
<text x="216.9" y="301.2" font-size="5.4" fill="#444" text-anchor="middle" transform="rotate(-90 216.9 301.2)">40</text>
<text x="216.9" y="287.2" font-size="5.4" fill="#444" text-anchor="middle" transform="rotate(-90 216.9 287.2)">80</text>
<text x="216.9" y="273.1" font-size="5.4" fill="#444" text-anchor="middle" transform="rotate(-90 216.9 273.1)">120</text>
<text x="216.9" y="259.1" font-size="5.4" fill="#444" text-anchor="middle" transform="rotate(-90 216.9 259.1)">160</text>
<text x="216.9" y="245" font-size="5.4" fill="#444" text-anchor="middle" transform="rotate(-90 216.9 245)">200</text>
<line x1="253.2" y1="264.7" x2="282.7" y2="264.7" stroke="#222" stroke-width="1.3"/>
<line x1="253.2" y1="262.8" x2="253.2" y2="266.6" stroke="#222" stroke-width="1.1"/>
<line x1="282.7" y1="262.8" x2="282.7" y2="266.6" stroke="#222" stroke-width="1.1"/>
<text x="285.4" y="264.5" font-size="13" text-anchor="end" fill="#222" textLength="24" lengthAdjust="spacingAndGlyphs">24 %</text>
<path d="M300.8 245 H371.3 V314.9" fill="none" stroke="#777" stroke-width="1"/>
<line x1="300.8" y1="245" x2="300.8" y2="314.9" stroke="#333" stroke-width="1.1" stroke-dasharray="1 1.75"/>
<path d="M301.3 314.9 L301.1 314.4 L307.4 314 L312.5 312.8 L315 309 L316.9 300.8 L318.5 290.6 L320.1 281.8 L321.3 279.2 L322.8 281.8 L324.5 284.3 L325.7 293.2 L327.6 297 L329.5 299.5 L331.4 302.7 L334 304.6 L336.5 306.5 L339 307.1 L340.9 305.2 L343.5 302 L346 299.5 L348.2 298.2 L350.4 300.8 L352.7 303.3 L354.2 307.1 L356.1 311.5 L358 314.4 L370.8 314.9 Z" fill="#000"/>
<line x1="300.3" y1="314.9" x2="371.3" y2="314.9" stroke="#111" stroke-width="1.5"/>
<path d="M300.8 315.6V317.3M306.1 315.6V316.8M309.2 315.6V316.8M311.4 315.6V316.8M313.1 315.6V316.8M314.5 315.6V316.8M315.7 315.6V316.8M316.7 315.6V316.8M317.6 315.6V316.8M318.4 315.6V317.3M323.7 315.6V316.8M326.8 315.6V316.8M329 315.6V316.8M330.7 315.6V316.8M332.1 315.6V316.8M333.3 315.6V316.8M334.3 315.6V316.8M335.2 315.6V316.8M336.1 315.6V317.3M341.4 315.6V316.8M344.5 315.6V316.8M346.7 315.6V316.8M348.4 315.6V316.8M349.8 315.6V316.8M350.9 315.6V316.8M352 315.6V316.8M352.9 315.6V316.8M353.7 315.6V317.3M359 315.6V316.8M362.1 315.6V316.8M364.3 315.6V316.8M366 315.6V316.8M367.4 315.6V316.8M368.6 315.6V316.8M369.6 315.6V316.8M370.5 315.6V316.8M371.3 315.6V317.3" stroke="#444" stroke-width="0.8" fill="none"/>
<text x="302.1" y="324.2" font-size="4.9" fill="#333" transform="rotate(-90 302.1 324.2)">10</text>
<text x="303.4" y="319.5" font-size="3.6" fill="#444" transform="rotate(-90 303.4 319.5)">0</text>
<text x="319.7" y="324.2" font-size="4.9" fill="#333" transform="rotate(-90 319.7 324.2)">10</text>
<text x="321" y="319.5" font-size="3.6" fill="#444" transform="rotate(-90 321 319.5)">1</text>
<text x="337.4" y="324.2" font-size="4.9" fill="#333" transform="rotate(-90 337.4 324.2)">10</text>
<text x="338.7" y="319.5" font-size="3.6" fill="#444" transform="rotate(-90 338.7 319.5)">2</text>
<text x="355" y="324.2" font-size="4.9" fill="#333" transform="rotate(-90 355 324.2)">10</text>
<text x="356.3" y="319.5" font-size="3.6" fill="#444" transform="rotate(-90 356.3 319.5)">3</text>
<text x="372.6" y="324.2" font-size="4.9" fill="#333" transform="rotate(-90 372.6 324.2)">10</text>
<text x="373.9" y="319.5" font-size="3.6" fill="#444" transform="rotate(-90 373.9 319.5)">4</text>
<text x="299.2" y="314.9" font-size="5.4" fill="#444" text-anchor="middle" transform="rotate(-90 299.2 314.9)">0</text>
<text x="299.2" y="300.9" font-size="5.4" fill="#444" text-anchor="middle" transform="rotate(-90 299.2 300.9)">40</text>
<text x="299.2" y="286.9" font-size="5.4" fill="#444" text-anchor="middle" transform="rotate(-90 299.2 286.9)">80</text>
<text x="299.2" y="273" font-size="5.4" fill="#444" text-anchor="middle" transform="rotate(-90 299.2 273)">120</text>
<text x="299.2" y="259" font-size="5.4" fill="#444" text-anchor="middle" transform="rotate(-90 299.2 259)">160</text>
<text x="299.2" y="245" font-size="5.4" fill="#444" text-anchor="middle" transform="rotate(-90 299.2 245)">200</text>
<line x1="335.5" y1="264.7" x2="363.7" y2="264.7" stroke="#222" stroke-width="1.3"/>
<line x1="335.5" y1="262.8" x2="335.5" y2="266.6" stroke="#222" stroke-width="1.1"/>
<line x1="363.7" y1="262.8" x2="363.7" y2="266.6" stroke="#222" stroke-width="1.1"/>
<text x="366.4" y="264.5" font-size="13" text-anchor="end" fill="#222" textLength="24" lengthAdjust="spacingAndGlyphs">33 %</text>
<path d="M384.4 245.3 H454.4 V315.3" fill="none" stroke="#777" stroke-width="1"/>
<line x1="384.4" y1="245.3" x2="384.4" y2="315.3" stroke="#333" stroke-width="1.1" stroke-dasharray="1 1.75"/>
<path d="M384.9 315.3 L385.1 314.7 L392.7 313.4 L399 312.2 L403.4 310.9 L405.9 307.7 L408.5 305.2 L411.6 302.7 L413.9 300.1 L415.4 294.4 L418 289.4 L419.9 283 L421.8 275.4 L424.3 268.9 L425.6 274.2 L427.1 283 L428.4 294.4 L429.6 304.6 L430.9 310.9 L433.2 314 L437 314.7 L453.9 315.3 Z" fill="#000"/>
<line x1="383.9" y1="315.3" x2="454.4" y2="315.3" stroke="#111" stroke-width="1.5"/>
<path d="M384.4 316V317.7M389.7 316V317.2M392.7 316V317.2M394.9 316V317.2M396.6 316V317.2M398 316V317.2M399.2 316V317.2M400.2 316V317.2M401.1 316V317.2M401.9 316V317.7M407.2 316V317.2M410.2 316V317.2M412.4 316V317.2M414.1 316V317.2M415.5 316V317.2M416.7 316V317.2M417.7 316V317.2M418.6 316V317.2M419.4 316V317.7M424.7 316V317.2M427.7 316V317.2M429.9 316V317.2M431.6 316V317.2M433 316V317.2M434.2 316V317.2M435.2 316V317.2M436.1 316V317.2M436.9 316V317.7M442.2 316V317.2M445.2 316V317.2M447.4 316V317.2M449.1 316V317.2M450.5 316V317.2M451.7 316V317.2M452.7 316V317.2M453.6 316V317.2M454.4 316V317.7" stroke="#444" stroke-width="0.8" fill="none"/>
<text x="385.7" y="324.6" font-size="4.9" fill="#333" transform="rotate(-90 385.7 324.6)">10</text>
<text x="387" y="319.9" font-size="3.6" fill="#444" transform="rotate(-90 387 319.9)">0</text>
<text x="403.2" y="324.6" font-size="4.9" fill="#333" transform="rotate(-90 403.2 324.6)">10</text>
<text x="404.5" y="319.9" font-size="3.6" fill="#444" transform="rotate(-90 404.5 319.9)">1</text>
<text x="420.7" y="324.6" font-size="4.9" fill="#333" transform="rotate(-90 420.7 324.6)">10</text>
<text x="422" y="319.9" font-size="3.6" fill="#444" transform="rotate(-90 422 319.9)">2</text>
<text x="438.2" y="324.6" font-size="4.9" fill="#333" transform="rotate(-90 438.2 324.6)">10</text>
<text x="439.5" y="319.9" font-size="3.6" fill="#444" transform="rotate(-90 439.5 319.9)">3</text>
<text x="455.7" y="324.6" font-size="4.9" fill="#333" transform="rotate(-90 455.7 324.6)">10</text>
<text x="457" y="319.9" font-size="3.6" fill="#444" transform="rotate(-90 457 319.9)">4</text>
<text x="382.8" y="315.3" font-size="5.4" fill="#444" text-anchor="middle" transform="rotate(-90 382.8 315.3)">0</text>
<text x="382.8" y="301.3" font-size="5.4" fill="#444" text-anchor="middle" transform="rotate(-90 382.8 301.3)">40</text>
<text x="382.8" y="287.3" font-size="5.4" fill="#444" text-anchor="middle" transform="rotate(-90 382.8 287.3)">80</text>
<text x="382.8" y="273.3" font-size="5.4" fill="#444" text-anchor="middle" transform="rotate(-90 382.8 273.3)">120</text>
<text x="382.8" y="259.3" font-size="5.4" fill="#444" text-anchor="middle" transform="rotate(-90 382.8 259.3)">160</text>
<text x="382.8" y="245.3" font-size="5.4" fill="#444" text-anchor="middle" transform="rotate(-90 382.8 245.3)">200</text>
<line x1="419.5" y1="264.7" x2="447.7" y2="264.7" stroke="#222" stroke-width="1.3"/>
<line x1="419.5" y1="262.8" x2="419.5" y2="266.6" stroke="#222" stroke-width="1.1"/>
<line x1="447.7" y1="262.8" x2="447.7" y2="266.6" stroke="#222" stroke-width="1.1"/>
<text x="450.4" y="264.5" font-size="13" text-anchor="end" fill="#222" textLength="24" lengthAdjust="spacingAndGlyphs">63 %</text>
<path d="M50.1 331.8 H119.9 V401.2" fill="none" stroke="#777" stroke-width="1"/>
<line x1="50.1" y1="331.8" x2="50.1" y2="401.2" stroke="#333" stroke-width="1.1" stroke-dasharray="1 1.75"/>
<path d="M50.6 401.2 L50.7 400.6 L57.7 400.2 L65.3 398.9 L67.2 395.1 L69.1 387.5 L71 381.2 L72.6 372.3 L74.4 364.1 L76 362.2 L77.7 358.4 L78.5 353.9 L79.4 360.3 L80.7 359 L82 366 L83.6 372.3 L85.5 378.6 L88 383.7 L90.6 385.6 L92.5 386.2 L94.4 381.2 L96.3 383.7 L98.2 385 L100.1 387.5 L101.7 391.3 L103.5 393.8 L105.5 398.3 L107.7 400.6 L119.4 401.2 Z" fill="#000"/>
<line x1="49.6" y1="401.2" x2="119.9" y2="401.2" stroke="#111" stroke-width="1.5"/>
<path d="M50.1 401.9V403.6M55.4 401.9V403.1M58.4 401.9V403.1M60.6 401.9V403.1M62.3 401.9V403.1M63.7 401.9V403.1M64.8 401.9V403.1M65.9 401.9V403.1M66.8 401.9V403.1M67.6 401.9V403.6M72.8 401.9V403.1M75.9 401.9V403.1M78.1 401.9V403.1M79.7 401.9V403.1M81.1 401.9V403.1M82.3 401.9V403.1M83.3 401.9V403.1M84.2 401.9V403.1M85 401.9V403.6M90.3 401.9V403.1M93.3 401.9V403.1M95.5 401.9V403.1M97.2 401.9V403.1M98.6 401.9V403.1M99.7 401.9V403.1M100.8 401.9V403.1M101.7 401.9V403.1M102.5 401.9V403.6M107.7 401.9V403.1M110.8 401.9V403.1M113 401.9V403.1M114.6 401.9V403.1M116 401.9V403.1M117.2 401.9V403.1M118.2 401.9V403.1M119.1 401.9V403.1M119.9 401.9V403.6" stroke="#444" stroke-width="0.8" fill="none"/>
<text x="51.4" y="410.5" font-size="4.9" fill="#333" transform="rotate(-90 51.4 410.5)">10</text>
<text x="52.7" y="405.8" font-size="3.6" fill="#444" transform="rotate(-90 52.7 405.8)">0</text>
<text x="68.9" y="410.5" font-size="4.9" fill="#333" transform="rotate(-90 68.9 410.5)">10</text>
<text x="70.2" y="405.8" font-size="3.6" fill="#444" transform="rotate(-90 70.2 405.8)">1</text>
<text x="86.3" y="410.5" font-size="4.9" fill="#333" transform="rotate(-90 86.3 410.5)">10</text>
<text x="87.6" y="405.8" font-size="3.6" fill="#444" transform="rotate(-90 87.6 405.8)">2</text>
<text x="103.8" y="410.5" font-size="4.9" fill="#333" transform="rotate(-90 103.8 410.5)">10</text>
<text x="105.1" y="405.8" font-size="3.6" fill="#444" transform="rotate(-90 105.1 405.8)">3</text>
<text x="121.2" y="410.5" font-size="4.9" fill="#333" transform="rotate(-90 121.2 410.5)">10</text>
<text x="122.5" y="405.8" font-size="3.6" fill="#444" transform="rotate(-90 122.5 405.8)">4</text>
<text x="48.5" y="401.2" font-size="5.4" fill="#444" text-anchor="middle" transform="rotate(-90 48.5 401.2)">0</text>
<text x="48.5" y="387.3" font-size="5.4" fill="#444" text-anchor="middle" transform="rotate(-90 48.5 387.3)">40</text>
<text x="48.5" y="373.4" font-size="5.4" fill="#444" text-anchor="middle" transform="rotate(-90 48.5 373.4)">80</text>
<text x="48.5" y="359.6" font-size="5.4" fill="#444" text-anchor="middle" transform="rotate(-90 48.5 359.6)">120</text>
<text x="48.5" y="345.7" font-size="5.4" fill="#444" text-anchor="middle" transform="rotate(-90 48.5 345.7)">160</text>
<text x="48.5" y="331.8" font-size="5.4" fill="#444" text-anchor="middle" transform="rotate(-90 48.5 331.8)">200</text>
<line x1="84.9" y1="351" x2="113.4" y2="351" stroke="#222" stroke-width="1.3"/>
<line x1="84.9" y1="349.1" x2="84.9" y2="352.9" stroke="#222" stroke-width="1.1"/>
<line x1="113.4" y1="349.1" x2="113.4" y2="352.9" stroke="#222" stroke-width="1.1"/>
<text x="116.1" y="350.8" font-size="13" text-anchor="end" fill="#222" textLength="24" lengthAdjust="spacingAndGlyphs">35 %</text>
<path d="M137.3 332.8 H207.6 V402.4" fill="none" stroke="#777" stroke-width="1"/>
<line x1="137.3" y1="332.8" x2="137.3" y2="402.4" stroke="#333" stroke-width="1.1" stroke-dasharray="1 1.75"/>
<path d="M137.8 402.4 L137.7 401.8 L144.7 400.8 L151 400.2 L154.8 398.9 L157.3 395.1 L159.2 387.5 L161.1 381.2 L163 372.3 L164.9 363.4 L166.8 359 L168.7 360.9 L170.2 368.5 L171.9 377.4 L173.8 383.7 L175.7 390 L178.2 392.6 L180.7 393.2 L183.9 391.9 L187.1 390 L189 386.2 L190.9 385 L192.5 387.5 L194 393.8 L195.9 399.5 L197.8 401.8 L207.1 402.4 Z" fill="#000"/>
<line x1="136.8" y1="402.4" x2="207.6" y2="402.4" stroke="#111" stroke-width="1.5"/>
<path d="M137.3 403.1V404.8M142.6 403.1V404.3M145.7 403.1V404.3M147.9 403.1V404.3M149.6 403.1V404.3M151 403.1V404.3M152.2 403.1V404.3M153.2 403.1V404.3M154.1 403.1V404.3M154.9 403.1V404.8M160.2 403.1V404.3M163.3 403.1V404.3M165.5 403.1V404.3M167.2 403.1V404.3M168.6 403.1V404.3M169.7 403.1V404.3M170.7 403.1V404.3M171.6 403.1V404.3M172.4 403.1V404.8M177.7 403.1V404.3M180.8 403.1V404.3M183 403.1V404.3M184.7 403.1V404.3M186.1 403.1V404.3M187.3 403.1V404.3M188.3 403.1V404.3M189.2 403.1V404.3M190 403.1V404.8M195.3 403.1V404.3M198.4 403.1V404.3M200.6 403.1V404.3M202.3 403.1V404.3M203.7 403.1V404.3M204.9 403.1V404.3M205.9 403.1V404.3M206.8 403.1V404.3M207.6 403.1V404.8" stroke="#444" stroke-width="0.8" fill="none"/>
<text x="138.6" y="411.7" font-size="4.9" fill="#333" transform="rotate(-90 138.6 411.7)">10</text>
<text x="139.9" y="407" font-size="3.6" fill="#444" transform="rotate(-90 139.9 407)">0</text>
<text x="156.2" y="411.7" font-size="4.9" fill="#333" transform="rotate(-90 156.2 411.7)">10</text>
<text x="157.5" y="407" font-size="3.6" fill="#444" transform="rotate(-90 157.5 407)">1</text>
<text x="173.8" y="411.7" font-size="4.9" fill="#333" transform="rotate(-90 173.8 411.7)">10</text>
<text x="175" y="407" font-size="3.6" fill="#444" transform="rotate(-90 175 407)">2</text>
<text x="191.3" y="411.7" font-size="4.9" fill="#333" transform="rotate(-90 191.3 411.7)">10</text>
<text x="192.6" y="407" font-size="3.6" fill="#444" transform="rotate(-90 192.6 407)">3</text>
<text x="208.9" y="411.7" font-size="4.9" fill="#333" transform="rotate(-90 208.9 411.7)">10</text>
<text x="210.2" y="407" font-size="3.6" fill="#444" transform="rotate(-90 210.2 407)">4</text>
<text x="135.7" y="402.4" font-size="5.4" fill="#444" text-anchor="middle" transform="rotate(-90 135.7 402.4)">0</text>
<text x="135.7" y="388.5" font-size="5.4" fill="#444" text-anchor="middle" transform="rotate(-90 135.7 388.5)">30</text>
<text x="135.7" y="374.6" font-size="5.4" fill="#444" text-anchor="middle" transform="rotate(-90 135.7 374.6)">60</text>
<text x="135.7" y="360.6" font-size="5.4" fill="#444" text-anchor="middle" transform="rotate(-90 135.7 360.6)">90</text>
<text x="135.7" y="346.7" font-size="5.4" fill="#444" text-anchor="middle" transform="rotate(-90 135.7 346.7)">120</text>
<text x="135.7" y="332.8" font-size="5.4" fill="#444" text-anchor="middle" transform="rotate(-90 135.7 332.8)">150</text>
<line x1="172.5" y1="351" x2="202.3" y2="351" stroke="#222" stroke-width="1.3"/>
<line x1="172.5" y1="349.1" x2="172.5" y2="352.9" stroke="#222" stroke-width="1.1"/>
<line x1="202.3" y1="349.1" x2="202.3" y2="352.9" stroke="#222" stroke-width="1.1"/>
<text x="205" y="350.8" font-size="13" text-anchor="end" fill="#222" textLength="24" lengthAdjust="spacingAndGlyphs">35 %</text>
<path d="M218.8 331.8 H288.8 V402" fill="none" stroke="#777" stroke-width="1"/>
<line x1="218.8" y1="331.8" x2="218.8" y2="402" stroke="#333" stroke-width="1.1" stroke-dasharray="1 1.75"/>
<path d="M219.3 402 L219.4 401.6 L226.4 400.8 L233.4 399.9 L236.5 397 L238.4 392.6 L240.3 386.2 L242.2 377.4 L244.1 366 L246 356.5 L248.2 353.9 L250.2 357.1 L252 362.2 L253.6 369.8 L255.3 377.4 L257.4 385 L259.9 390 L262.5 392.6 L265 393.8 L267.5 392.6 L270.1 390 L272 386.9 L273.9 383.7 L275.5 387.5 L276.8 393.8 L278 399.5 L280.2 401.6 L288.3 402 Z" fill="#000"/>
<line x1="218.3" y1="402" x2="288.8" y2="402" stroke="#111" stroke-width="1.5"/>
<path d="M218.8 402.7V404.4M224.1 402.7V403.9M227.1 402.7V403.9M229.3 402.7V403.9M231 402.7V403.9M232.4 402.7V403.9M233.6 402.7V403.9M234.6 402.7V403.9M235.5 402.7V403.9M236.3 402.7V404.4M241.6 402.7V403.9M244.6 402.7V403.9M246.8 402.7V403.9M248.5 402.7V403.9M249.9 402.7V403.9M251.1 402.7V403.9M252.1 402.7V403.9M253 402.7V403.9M253.8 402.7V404.4M259.1 402.7V403.9M262.1 402.7V403.9M264.3 402.7V403.9M266 402.7V403.9M267.4 402.7V403.9M268.6 402.7V403.9M269.6 402.7V403.9M270.5 402.7V403.9M271.3 402.7V404.4M276.6 402.7V403.9M279.6 402.7V403.9M281.8 402.7V403.9M283.5 402.7V403.9M284.9 402.7V403.9M286.1 402.7V403.9M287.1 402.7V403.9M288 402.7V403.9M288.8 402.7V404.4" stroke="#444" stroke-width="0.8" fill="none"/>
<text x="220.1" y="411.3" font-size="4.9" fill="#333" transform="rotate(-90 220.1 411.3)">10</text>
<text x="221.4" y="406.6" font-size="3.6" fill="#444" transform="rotate(-90 221.4 406.6)">0</text>
<text x="237.6" y="411.3" font-size="4.9" fill="#333" transform="rotate(-90 237.6 411.3)">10</text>
<text x="238.9" y="406.6" font-size="3.6" fill="#444" transform="rotate(-90 238.9 406.6)">1</text>
<text x="255.1" y="411.3" font-size="4.9" fill="#333" transform="rotate(-90 255.1 411.3)">10</text>
<text x="256.4" y="406.6" font-size="3.6" fill="#444" transform="rotate(-90 256.4 406.6)">2</text>
<text x="272.6" y="411.3" font-size="4.9" fill="#333" transform="rotate(-90 272.6 411.3)">10</text>
<text x="273.9" y="406.6" font-size="3.6" fill="#444" transform="rotate(-90 273.9 406.6)">3</text>
<text x="290.1" y="411.3" font-size="4.9" fill="#333" transform="rotate(-90 290.1 411.3)">10</text>
<text x="291.4" y="406.6" font-size="3.6" fill="#444" transform="rotate(-90 291.4 406.6)">4</text>
<text x="217.2" y="402" font-size="5.4" fill="#444" text-anchor="middle" transform="rotate(-90 217.2 402)">0</text>
<text x="217.2" y="388" font-size="5.4" fill="#444" text-anchor="middle" transform="rotate(-90 217.2 388)">30</text>
<text x="217.2" y="373.9" font-size="5.4" fill="#444" text-anchor="middle" transform="rotate(-90 217.2 373.9)">60</text>
<text x="217.2" y="359.9" font-size="5.4" fill="#444" text-anchor="middle" transform="rotate(-90 217.2 359.9)">90</text>
<text x="217.2" y="345.8" font-size="5.4" fill="#444" text-anchor="middle" transform="rotate(-90 217.2 345.8)">120</text>
<text x="217.2" y="331.8" font-size="5.4" fill="#444" text-anchor="middle" transform="rotate(-90 217.2 331.8)">150</text>
<line x1="253.6" y1="351" x2="284" y2="351" stroke="#222" stroke-width="1.3"/>
<line x1="253.6" y1="349.1" x2="253.6" y2="352.9" stroke="#222" stroke-width="1.1"/>
<line x1="284" y1="349.1" x2="284" y2="352.9" stroke="#222" stroke-width="1.1"/>
<text x="286.7" y="350.8" font-size="13" text-anchor="end" fill="#222" textLength="24" lengthAdjust="spacingAndGlyphs">35 %</text>
<path d="M300.4 330.8 H370.9 V402.4" fill="none" stroke="#777" stroke-width="1"/>
<line x1="300.4" y1="330.8" x2="300.4" y2="402.4" stroke="#333" stroke-width="1.1" stroke-dasharray="1 1.75"/>
<path d="M300.9 402.4 L301.1 401.8 L308.7 401.2 L316.3 400.8 L320.1 399.5 L322.6 395.1 L325.1 391.3 L327 388.1 L329.2 383.7 L331.2 376.1 L333 369.8 L334.6 366 L335.9 360.3 L337.1 368.5 L339 373.6 L340.9 377.4 L342.8 381.2 L344.7 383.7 L346.6 379.9 L348.5 385 L350.4 386.2 L353 383.7 L354.5 387.5 L356.5 388.8 L358 392.6 L359.3 397.6 L360.8 401.8 L370.4 402.4 Z" fill="#000"/>
<line x1="299.9" y1="402.4" x2="370.9" y2="402.4" stroke="#111" stroke-width="1.5"/>
<path d="M300.4 403.1V404.8M305.7 403.1V404.3M308.8 403.1V404.3M311 403.1V404.3M312.7 403.1V404.3M314.1 403.1V404.3M315.3 403.1V404.3M316.3 403.1V404.3M317.2 403.1V404.3M318 403.1V404.8M323.3 403.1V404.3M326.4 403.1V404.3M328.6 403.1V404.3M330.3 403.1V404.3M331.7 403.1V404.3M332.9 403.1V404.3M333.9 403.1V404.3M334.8 403.1V404.3M335.6 403.1V404.8M341 403.1V404.3M344.1 403.1V404.3M346.3 403.1V404.3M348 403.1V404.3M349.4 403.1V404.3M350.5 403.1V404.3M351.6 403.1V404.3M352.5 403.1V404.3M353.3 403.1V404.8M358.6 403.1V404.3M361.7 403.1V404.3M363.9 403.1V404.3M365.6 403.1V404.3M367 403.1V404.3M368.2 403.1V404.3M369.2 403.1V404.3M370.1 403.1V404.3M370.9 403.1V404.8" stroke="#444" stroke-width="0.8" fill="none"/>
<text x="301.7" y="411.7" font-size="4.9" fill="#333" transform="rotate(-90 301.7 411.7)">10</text>
<text x="303" y="407" font-size="3.6" fill="#444" transform="rotate(-90 303 407)">0</text>
<text x="319.3" y="411.7" font-size="4.9" fill="#333" transform="rotate(-90 319.3 411.7)">10</text>
<text x="320.6" y="407" font-size="3.6" fill="#444" transform="rotate(-90 320.6 407)">1</text>
<text x="336.9" y="411.7" font-size="4.9" fill="#333" transform="rotate(-90 336.9 411.7)">10</text>
<text x="338.2" y="407" font-size="3.6" fill="#444" transform="rotate(-90 338.2 407)">2</text>
<text x="354.6" y="411.7" font-size="4.9" fill="#333" transform="rotate(-90 354.6 411.7)">10</text>
<text x="355.9" y="407" font-size="3.6" fill="#444" transform="rotate(-90 355.9 407)">3</text>
<text x="372.2" y="411.7" font-size="4.9" fill="#333" transform="rotate(-90 372.2 411.7)">10</text>
<text x="373.5" y="407" font-size="3.6" fill="#444" transform="rotate(-90 373.5 407)">4</text>
<text x="298.8" y="402.4" font-size="5.4" fill="#444" text-anchor="middle" transform="rotate(-90 298.8 402.4)">0</text>
<text x="298.8" y="390.5" font-size="5.4" fill="#444" text-anchor="middle" transform="rotate(-90 298.8 390.5)">20</text>
<text x="298.8" y="378.5" font-size="5.4" fill="#444" text-anchor="middle" transform="rotate(-90 298.8 378.5)">40</text>
<text x="298.8" y="366.6" font-size="5.4" fill="#444" text-anchor="middle" transform="rotate(-90 298.8 366.6)">60</text>
<text x="298.8" y="354.7" font-size="5.4" fill="#444" text-anchor="middle" transform="rotate(-90 298.8 354.7)">80</text>
<text x="298.8" y="342.7" font-size="5.4" fill="#444" text-anchor="middle" transform="rotate(-90 298.8 342.7)">100</text>
<text x="298.8" y="330.8" font-size="5.4" fill="#444" text-anchor="middle" transform="rotate(-90 298.8 330.8)">120</text>
<line x1="335.5" y1="351" x2="365.6" y2="351" stroke="#222" stroke-width="1.3"/>
<line x1="335.5" y1="349.1" x2="335.5" y2="352.9" stroke="#222" stroke-width="1.1"/>
<line x1="365.6" y1="349.1" x2="365.6" y2="352.9" stroke="#222" stroke-width="1.1"/>
<text x="368.3" y="350.8" font-size="13" text-anchor="end" fill="#222" textLength="24" lengthAdjust="spacingAndGlyphs">61 %</text>
<path d="M384.8 331.8 H454.7 V402" fill="none" stroke="#777" stroke-width="1"/>
<line x1="384.8" y1="331.8" x2="384.8" y2="402" stroke="#333" stroke-width="1.1" stroke-dasharray="1 1.75"/>
<path d="M385.3 402 L385.1 401.6 L391.4 400.8 L397.7 399.9 L403.4 398.9 L406.6 395.1 L410.4 391.3 L412.9 387.5 L415.4 382.4 L418 378.6 L419.9 375.5 L421.8 374.8 L423.7 371 L425.6 366 L427.5 362.2 L429.4 356.9 L430.6 360.9 L431.9 369.8 L432.9 378.6 L433.8 387.5 L434.7 395.1 L436.3 400.2 L439.5 401.4 L454.2 402 Z" fill="#000"/>
<line x1="384.3" y1="402" x2="454.7" y2="402" stroke="#111" stroke-width="1.5"/>
<path d="M384.8 402.7V404.4M390.1 402.7V403.9M393.1 402.7V403.9M395.3 402.7V403.9M397 402.7V403.9M398.4 402.7V403.9M399.6 402.7V403.9M400.6 402.7V403.9M401.5 402.7V403.9M402.3 402.7V404.4M407.5 402.7V403.9M410.6 402.7V403.9M412.8 402.7V403.9M414.5 402.7V403.9M415.9 402.7V403.9M417 402.7V403.9M418.1 402.7V403.9M419 402.7V403.9M419.8 402.7V404.4M425 402.7V403.9M428.1 402.7V403.9M430.3 402.7V403.9M432 402.7V403.9M433.3 402.7V403.9M434.5 402.7V403.9M435.5 402.7V403.9M436.4 402.7V403.9M437.2 402.7V404.4M442.5 402.7V403.9M445.6 402.7V403.9M447.7 402.7V403.9M449.4 402.7V403.9M450.8 402.7V403.9M452 402.7V403.9M453 402.7V403.9M453.9 402.7V403.9M454.7 402.7V404.4" stroke="#444" stroke-width="0.8" fill="none"/>
<text x="386.1" y="411.3" font-size="4.9" fill="#333" transform="rotate(-90 386.1 411.3)">10</text>
<text x="387.4" y="406.6" font-size="3.6" fill="#444" transform="rotate(-90 387.4 406.6)">0</text>
<text x="403.6" y="411.3" font-size="4.9" fill="#333" transform="rotate(-90 403.6 411.3)">10</text>
<text x="404.9" y="406.6" font-size="3.6" fill="#444" transform="rotate(-90 404.9 406.6)">1</text>
<text x="421.1" y="411.3" font-size="4.9" fill="#333" transform="rotate(-90 421.1 411.3)">10</text>
<text x="422.4" y="406.6" font-size="3.6" fill="#444" transform="rotate(-90 422.4 406.6)">2</text>
<text x="438.5" y="411.3" font-size="4.9" fill="#333" transform="rotate(-90 438.5 411.3)">10</text>
<text x="439.8" y="406.6" font-size="3.6" fill="#444" transform="rotate(-90 439.8 406.6)">3</text>
<text x="456" y="411.3" font-size="4.9" fill="#333" transform="rotate(-90 456 411.3)">10</text>
<text x="457.3" y="406.6" font-size="3.6" fill="#444" transform="rotate(-90 457.3 406.6)">4</text>
<text x="383.2" y="402" font-size="5.4" fill="#444" text-anchor="middle" transform="rotate(-90 383.2 402)">0</text>
<text x="383.2" y="388" font-size="5.4" fill="#444" text-anchor="middle" transform="rotate(-90 383.2 388)">40</text>
<text x="383.2" y="373.9" font-size="5.4" fill="#444" text-anchor="middle" transform="rotate(-90 383.2 373.9)">80</text>
<text x="383.2" y="359.9" font-size="5.4" fill="#444" text-anchor="middle" transform="rotate(-90 383.2 359.9)">120</text>
<text x="383.2" y="345.8" font-size="5.4" fill="#444" text-anchor="middle" transform="rotate(-90 383.2 345.8)">160</text>
<text x="383.2" y="331.8" font-size="5.4" fill="#444" text-anchor="middle" transform="rotate(-90 383.2 331.8)">200</text>
<line x1="420.3" y1="351" x2="449" y2="351" stroke="#222" stroke-width="1.3"/>
<line x1="420.3" y1="349.1" x2="420.3" y2="352.9" stroke="#222" stroke-width="1.1"/>
<line x1="449" y1="349.1" x2="449" y2="352.9" stroke="#222" stroke-width="1.1"/>
<text x="451.7" y="350.8" font-size="13" text-anchor="end" fill="#222" textLength="24" lengthAdjust="spacingAndGlyphs">71 %</text>
<line x1="49.9" y1="197.2" x2="206.8" y2="197.2" stroke="#111" stroke-width="1.6"/>
<line x1="288.8" y1="197.2" x2="441" y2="197.2" stroke="#111" stroke-width="1.6"/>
<path d="M440.5 193.9 L447.5 197.2 L440.5 200.5 Z" fill="#000"/>
<text x="252.3" y="204.5" font-size="15.5" font-weight="bold" text-anchor="middle" fill="#000" textLength="73.5" lengthAdjust="spacingAndGlyphs">Annexin V</text>
<line x1="49" y1="422.1" x2="206" y2="422.1" stroke="#111" stroke-width="1.6"/>
<line x1="289" y1="422.1" x2="440.1" y2="422.1" stroke="#111" stroke-width="1.6"/>
<path d="M439.6 418.8 L446.6 422.1 L439.6 425.4 Z" fill="#000"/>
<text x="249.8" y="429.2" font-size="15.5" font-weight="bold" text-anchor="middle" fill="#000" textLength="73.5" lengthAdjust="spacingAndGlyphs">Annexin V</text>
<line x1="506" y1="132.5" x2="506" y2="126.1" stroke="#777" stroke-width="1"/>
<line x1="503.7" y1="126.1" x2="508.3" y2="126.1" stroke="#777" stroke-width="1"/>
<rect x="500.8" y="133" width="10.4" height="46.7" fill="#fff" stroke="#999" stroke-width="1"/>
<line x1="517.9" y1="130.9" x2="517.9" y2="123.2" stroke="#777" stroke-width="1"/>
<line x1="515.6" y1="123.2" x2="520.2" y2="123.2" stroke="#777" stroke-width="1"/>
<rect x="512.8" y="130.9" width="10.2" height="48.8" fill="#000" stroke="none" stroke-width="1"/>
<line x1="530" y1="99.6" x2="530" y2="90.2" stroke="#777" stroke-width="1"/>
<line x1="527.7" y1="90.2" x2="532.3" y2="90.2" stroke="#777" stroke-width="1"/>
<rect x="524.7" y="100.1" width="10.6" height="79.6" fill="#fff" stroke="#999" stroke-width="1"/>
<line x1="542.4" y1="82" x2="542.4" y2="71.3" stroke="#777" stroke-width="1"/>
<line x1="540.1" y1="71.3" x2="544.6" y2="71.3" stroke="#777" stroke-width="1"/>
<rect x="537" y="82" width="10.7" height="97.7" fill="#000" stroke="none" stroke-width="1"/>
<line x1="554.1" y1="123.2" x2="554.1" y2="113.2" stroke="#777" stroke-width="1"/>
<line x1="551.8" y1="113.2" x2="556.4" y2="113.2" stroke="#777" stroke-width="1"/>
<rect x="548.9" y="123.7" width="10.4" height="56" fill="#fff" stroke="#999" stroke-width="1"/>
<line x1="566.2" y1="84.9" x2="566.2" y2="77.4" stroke="#777" stroke-width="1"/>
<line x1="563.9" y1="77.4" x2="568.5" y2="77.4" stroke="#777" stroke-width="1"/>
<rect x="560.9" y="84.9" width="10.6" height="94.8" fill="#000" stroke="none" stroke-width="1"/>
<line x1="578.3" y1="120.3" x2="578.3" y2="113.3" stroke="#777" stroke-width="1"/>
<line x1="576" y1="113.3" x2="580.6" y2="113.3" stroke="#777" stroke-width="1"/>
<rect x="573.4" y="120.8" width="9.9" height="58.9" fill="#fff" stroke="#999" stroke-width="1"/>
<line x1="590.3" y1="115.2" x2="590.3" y2="105.3" stroke="#777" stroke-width="1"/>
<line x1="588" y1="105.3" x2="592.6" y2="105.3" stroke="#777" stroke-width="1"/>
<rect x="585" y="115.2" width="10.6" height="64.5" fill="#000" stroke="none" stroke-width="1"/>
<line x1="602.2" y1="45.5" x2="602.2" y2="29.8" stroke="#777" stroke-width="1"/>
<line x1="600" y1="29.8" x2="604.5" y2="29.8" stroke="#777" stroke-width="1"/>
<rect x="597.4" y="46" width="9.7" height="133.7" fill="#fff" stroke="#999" stroke-width="1"/>
<line x1="614.4" y1="40.1" x2="614.4" y2="26.4" stroke="#777" stroke-width="1"/>
<line x1="612.1" y1="26.4" x2="616.7" y2="26.4" stroke="#777" stroke-width="1"/>
<rect x="609" y="40.1" width="10.8" height="139.6" fill="#000" stroke="none" stroke-width="1"/>
<path d="M496.5 21.4 H622.6 V179.7" fill="none" stroke="#999" stroke-width="1"/>
<line x1="496.5" y1="21.4" x2="496.5" y2="179.7" stroke="#777" stroke-width="1"/>
<line x1="496.5" y1="179.7" x2="622.6" y2="179.7" stroke="#888" stroke-width="1"/>
<line x1="494.3" y1="179.7" x2="496.5" y2="179.7" stroke="#777" stroke-width="1"/>
<line x1="494.3" y1="148" x2="496.5" y2="148" stroke="#777" stroke-width="1"/>
<line x1="494.3" y1="116.4" x2="496.5" y2="116.4" stroke="#777" stroke-width="1"/>
<line x1="494.3" y1="84.7" x2="496.5" y2="84.7" stroke="#777" stroke-width="1"/>
<line x1="494.3" y1="53.1" x2="496.5" y2="53.1" stroke="#777" stroke-width="1"/>
<line x1="494.3" y1="21.4" x2="496.5" y2="21.4" stroke="#777" stroke-width="1"/>
<text x="493.8" y="184.6" font-size="12.3" text-anchor="end" fill="#111">0</text>
<text x="493.8" y="152.9" font-size="12.3" text-anchor="end" fill="#111">20</text>
<text x="493.8" y="121.3" font-size="12.3" text-anchor="end" fill="#111">40</text>
<text x="493.8" y="89.6" font-size="12.3" text-anchor="end" fill="#111">60</text>
<text x="493.8" y="57.9" font-size="12.3" text-anchor="end" fill="#111">80</text>
<text x="493.8" y="26.3" font-size="12.3" text-anchor="end" fill="#111">100</text>
<path d="M506.4 91.2 V55.6 H528.2 V62.7" fill="none" stroke="#333" stroke-width="1.5"/>
<path d="M518.8 78.4 V43.5 H542.4 V50.3" fill="none" stroke="#333" stroke-width="1.5"/>
<path d="M519.6 67.7 V32.4 H566.9 V39.5" fill="none" stroke="#333" stroke-width="1.5"/>
<path d="M528.2 83.4 V65.6 H542.7 V69.4" fill="none" stroke="#333" stroke-width="1.5"/>
<path d="M552.7 101.2 V65.6 H567.6 V73.1" fill="none" stroke="#333" stroke-width="1.5"/>
<path d="M504.7 117.5 V110.4 H519.6 V117.5" fill="none" stroke="#333" stroke-width="1.5"/>
<text x="513.5" y="57.5" font-size="10" text-anchor="middle" fill="#333">*</text>
<text x="530.6" y="44.7" font-size="10" text-anchor="middle" fill="#333">*</text>
<text x="544.6" y="34" font-size="10" text-anchor="middle" fill="#333">*</text>
<text x="535.3" y="67.2" font-size="10" text-anchor="middle" fill="#333">*</text>
<text x="559.5" y="67.2" font-size="10" text-anchor="middle" fill="#333">*</text>
<text x="512.2" y="195.9" font-size="10" text-anchor="middle" fill="#111" textLength="17.2" lengthAdjust="spacingAndGlyphs">Med</text>
<text x="536.4" y="195.9" font-size="10" text-anchor="middle" fill="#111" textLength="18" lengthAdjust="spacingAndGlyphs">TNF</text>
<text x="560.6" y="195.9" font-size="10" text-anchor="middle" fill="#111" textLength="27.4" lengthAdjust="spacingAndGlyphs">TRAIL</text>
<text x="584.5" y="195.9" font-size="10" text-anchor="middle" fill="#111" textLength="18.6" lengthAdjust="spacingAndGlyphs">FasL</text>
<text x="608.7" y="195.9" font-size="10" text-anchor="middle" fill="#111" textLength="19.4" lengthAdjust="spacingAndGlyphs">ActD</text>
<rect x="626.2" y="194.5" width="2.9" height="1.3" fill="#222" stroke="none" stroke-width="1"/>
<text x="476.2" y="102.5" font-size="14" font-weight="bold" text-anchor="middle" fill="#000" transform="rotate(-90 476.2 102.5)">Apoptosis (%)</text>
<text x="512.1" y="108.6" font-size="10" text-anchor="middle" fill="#333">ns</text>
<line x1="505.2" y1="370.3" x2="505.2" y2="363.9" stroke="#777" stroke-width="1"/>
<line x1="502.9" y1="363.9" x2="507.5" y2="363.9" stroke="#777" stroke-width="1"/>
<rect x="500" y="370.8" width="10.4" height="30.3" fill="#fff" stroke="#999" stroke-width="1"/>
<line x1="517.1" y1="352.6" x2="517.1" y2="343.4" stroke="#777" stroke-width="1"/>
<line x1="514.8" y1="343.4" x2="519.4" y2="343.4" stroke="#777" stroke-width="1"/>
<rect x="512" y="352.6" width="10.2" height="48.5" fill="#000" stroke="none" stroke-width="1"/>
<line x1="529.2" y1="365.3" x2="529.2" y2="357.3" stroke="#777" stroke-width="1"/>
<line x1="526.9" y1="357.3" x2="531.5" y2="357.3" stroke="#777" stroke-width="1"/>
<rect x="523.9" y="365.8" width="10.6" height="35.3" fill="#fff" stroke="#999" stroke-width="1"/>
<line x1="541.6" y1="349.6" x2="541.6" y2="341.4" stroke="#777" stroke-width="1"/>
<line x1="539.3" y1="341.4" x2="543.9" y2="341.4" stroke="#777" stroke-width="1"/>
<rect x="536.2" y="349.6" width="10.7" height="51.5" fill="#000" stroke="none" stroke-width="1"/>
<line x1="553.3" y1="367.2" x2="553.3" y2="360.5" stroke="#777" stroke-width="1"/>
<line x1="551" y1="360.5" x2="555.6" y2="360.5" stroke="#777" stroke-width="1"/>
<rect x="548.1" y="367.7" width="10.4" height="33.4" fill="#fff" stroke="#999" stroke-width="1"/>
<line x1="565.4" y1="351" x2="565.4" y2="341.4" stroke="#777" stroke-width="1"/>
<line x1="563.1" y1="341.4" x2="567.7" y2="341.4" stroke="#777" stroke-width="1"/>
<rect x="560.1" y="351" width="10.6" height="50.1" fill="#000" stroke="none" stroke-width="1"/>
<line x1="577.5" y1="349.6" x2="577.5" y2="341.4" stroke="#777" stroke-width="1"/>
<line x1="575.2" y1="341.4" x2="579.8" y2="341.4" stroke="#777" stroke-width="1"/>
<rect x="572.6" y="350.1" width="9.9" height="51" fill="#fff" stroke="#999" stroke-width="1"/>
<line x1="589.5" y1="300.7" x2="589.5" y2="289.6" stroke="#777" stroke-width="1"/>
<line x1="587.2" y1="289.6" x2="591.8" y2="289.6" stroke="#777" stroke-width="1"/>
<rect x="584.2" y="300.7" width="10.6" height="100.4" fill="#000" stroke="none" stroke-width="1"/>
<line x1="601.5" y1="291.3" x2="601.5" y2="278.4" stroke="#777" stroke-width="1"/>
<line x1="599.2" y1="278.4" x2="603.8" y2="278.4" stroke="#777" stroke-width="1"/>
<rect x="596.6" y="291.8" width="9.7" height="109.3" fill="#fff" stroke="#999" stroke-width="1"/>
<line x1="613.6" y1="278.4" x2="613.6" y2="267.5" stroke="#777" stroke-width="1"/>
<line x1="611.3" y1="267.5" x2="615.9" y2="267.5" stroke="#777" stroke-width="1"/>
<rect x="608.2" y="278.4" width="10.8" height="122.7" fill="#000" stroke="none" stroke-width="1"/>
<path d="M496.5 243.4 H622.6 V401.1" fill="none" stroke="#999" stroke-width="1"/>
<line x1="496.5" y1="243.4" x2="496.5" y2="401.1" stroke="#777" stroke-width="1"/>
<line x1="496.5" y1="401.1" x2="622.6" y2="401.1" stroke="#888" stroke-width="1"/>
<line x1="494.3" y1="401.1" x2="496.5" y2="401.1" stroke="#777" stroke-width="1"/>
<line x1="494.3" y1="369.6" x2="496.5" y2="369.6" stroke="#777" stroke-width="1"/>
<line x1="494.3" y1="338" x2="496.5" y2="338" stroke="#777" stroke-width="1"/>
<line x1="494.3" y1="306.5" x2="496.5" y2="306.5" stroke="#777" stroke-width="1"/>
<line x1="494.3" y1="274.9" x2="496.5" y2="274.9" stroke="#777" stroke-width="1"/>
<line x1="494.3" y1="243.4" x2="496.5" y2="243.4" stroke="#777" stroke-width="1"/>
<text x="493.8" y="406" font-size="12.3" text-anchor="end" fill="#111">0</text>
<text x="493.8" y="374.4" font-size="12.3" text-anchor="end" fill="#111">20</text>
<text x="493.8" y="342.9" font-size="12.3" text-anchor="end" fill="#111">40</text>
<text x="493.8" y="311.4" font-size="12.3" text-anchor="end" fill="#111">60</text>
<text x="493.8" y="279.8" font-size="12.3" text-anchor="end" fill="#111">80</text>
<text x="493.8" y="248.3" font-size="12.3" text-anchor="end" fill="#111">100</text>
<path d="M503.6 353.6 V336.5 H517.5 V340.5" fill="none" stroke="#333" stroke-width="1.5"/>
<path d="M505.3 336.5 V324.8 H577 V328.3" fill="none" stroke="#333" stroke-width="1.5"/>
<path d="M516.5 330.1 V267.4 H588.9 V279.6" fill="none" stroke="#333" stroke-width="1.5"/>
<path d="M574.9 331.8 V278.2 H589.6 V289.2" fill="none" stroke="#333" stroke-width="1.5"/>
<text x="510.5" y="337.9" font-size="10" text-anchor="middle" fill="#333">*</text>
<text x="540.5" y="326.2" font-size="10" text-anchor="middle" fill="#333">*</text>
<text x="549.7" y="268.3" font-size="10" text-anchor="middle" fill="#333">*</text>
<text x="581.9" y="279.6" font-size="10" text-anchor="middle" fill="#333">*</text>
<text x="511.4" y="412.9" font-size="10" text-anchor="middle" fill="#111" textLength="17.2" lengthAdjust="spacingAndGlyphs">Med</text>
<text x="535.6" y="412.9" font-size="10" text-anchor="middle" fill="#111" textLength="18" lengthAdjust="spacingAndGlyphs">TNF</text>
<text x="559.8" y="412.9" font-size="10" text-anchor="middle" fill="#111" textLength="27.4" lengthAdjust="spacingAndGlyphs">TRAIL</text>
<text x="583.7" y="412.9" font-size="10" text-anchor="middle" fill="#111" textLength="18.6" lengthAdjust="spacingAndGlyphs">FasL</text>
<text x="607.9" y="412.9" font-size="10" text-anchor="middle" fill="#111" textLength="19.4" lengthAdjust="spacingAndGlyphs">ActD</text>
<rect x="626.2" y="392.9" width="2.9" height="1.3" fill="#222" stroke="none" stroke-width="1"/>
<text x="476.2" y="326.6" font-size="14" font-weight="bold" text-anchor="middle" fill="#000" transform="rotate(-90 476.2 326.6)">Apoptosis (%)</text>
<rect x="524.8" y="202.6" width="62.5" height="41.4" fill="#fff" stroke="#111" stroke-width="1.3"/>
<rect x="533.8" y="211" width="7.4" height="7.4" fill="#fff" stroke="#333" stroke-width="1.1"/>
<rect x="533.4" y="231" width="8" height="8" fill="#000" stroke="none" stroke-width="1"/>
<text x="548.5" y="219.8" font-size="14" font-weight="bold" text-anchor="start" fill="#000" textLength="33.8" lengthAdjust="spacingAndGlyphs">Mock</text>
<text x="548.5" y="240.2" font-size="14" font-weight="bold" text-anchor="start" fill="#000" textLength="36.5" lengthAdjust="spacingAndGlyphs">HIV-1</text>
<path d="M58.5 486.2 H212.4 V602.3" fill="none" stroke="#999" stroke-width="1"/>
<line x1="58.5" y1="486.2" x2="58.5" y2="602.3" stroke="#666" stroke-width="1"/>
<line x1="58.5" y1="602.3" x2="212.4" y2="602.3" stroke="#666" stroke-width="1"/>
<line x1="56" y1="602.3" x2="58.5" y2="602.3" stroke="#666" stroke-width="1"/>
<line x1="56" y1="573.3" x2="58.5" y2="573.3" stroke="#666" stroke-width="1"/>
<line x1="56" y1="544.2" x2="58.5" y2="544.2" stroke="#666" stroke-width="1"/>
<line x1="56" y1="515.2" x2="58.5" y2="515.2" stroke="#666" stroke-width="1"/>
<line x1="56" y1="486.2" x2="58.5" y2="486.2" stroke="#666" stroke-width="1"/>
<line x1="58.5" y1="602.3" x2="58.5" y2="604.8" stroke="#666" stroke-width="1"/>
<line x1="89.3" y1="602.3" x2="89.3" y2="604.8" stroke="#666" stroke-width="1"/>
<line x1="120.1" y1="602.3" x2="120.1" y2="604.8" stroke="#666" stroke-width="1"/>
<line x1="150.9" y1="602.3" x2="150.9" y2="604.8" stroke="#666" stroke-width="1"/>
<line x1="181.7" y1="602.3" x2="181.7" y2="604.8" stroke="#666" stroke-width="1"/>
<line x1="212.5" y1="602.3" x2="212.5" y2="604.8" stroke="#666" stroke-width="1"/>
<text x="53" y="606.8" font-size="13.3" text-anchor="end" fill="#111">0</text>
<text x="53" y="577.8" font-size="13.3" text-anchor="end" fill="#111">20</text>
<text x="53" y="548.8" font-size="13.3" text-anchor="end" fill="#111">40</text>
<text x="53" y="519.7" font-size="13.3" text-anchor="end" fill="#111">60</text>
<text x="53" y="490.7" font-size="13.3" text-anchor="end" fill="#111">80</text>
<text x="59.5" y="621.6" font-size="13" text-anchor="middle" fill="#111">0</text>
<text x="91" y="621.6" font-size="13" text-anchor="middle" fill="#111">25</text>
<text x="122.4" y="621.6" font-size="13" text-anchor="middle" fill="#111">50</text>
<text x="153.3" y="621.6" font-size="13" text-anchor="middle" fill="#111">75</text>
<text x="185.6" y="621.6" font-size="13" text-anchor="middle" fill="#111">100</text>
<text x="127.2" y="647.9" font-size="16" text-anchor="middle" fill="#111" textLength="86.5" lengthAdjust="spacingAndGlyphs">FasL (&#956;g/ml)</text>
<text x="24" y="544.2" font-size="16" text-anchor="middle" fill="#000" transform="rotate(-90 24 544.2)">Apoptosis (%)</text>
<text x="71.9" y="504.9" font-size="14" font-weight="bold" text-anchor="start" fill="#000" textLength="24" lengthAdjust="spacingAndGlyphs">M&#216;</text>
<line x1="58.5" y1="551.4" x2="58.5" y2="563" stroke="#444" stroke-width="0.9"/>
<line x1="56.9" y1="551.4" x2="60.1" y2="551.4" stroke="#444" stroke-width="1"/>
<line x1="56.9" y1="563" x2="60.1" y2="563" stroke="#444" stroke-width="1"/>
<line x1="70.8" y1="546.2" x2="70.8" y2="560.4" stroke="#444" stroke-width="0.9"/>
<line x1="69.2" y1="546.2" x2="72.4" y2="546.2" stroke="#444" stroke-width="1"/>
<line x1="69.2" y1="560.4" x2="72.4" y2="560.4" stroke="#444" stroke-width="1"/>
<line x1="120.1" y1="540" x2="120.1" y2="554" stroke="#444" stroke-width="0.9"/>
<line x1="118.5" y1="540" x2="121.7" y2="540" stroke="#444" stroke-width="1"/>
<line x1="118.5" y1="554" x2="121.7" y2="554" stroke="#444" stroke-width="1"/>
<line x1="181.7" y1="534.8" x2="181.7" y2="546.2" stroke="#444" stroke-width="0.9"/>
<line x1="180.1" y1="534.8" x2="183.3" y2="534.8" stroke="#444" stroke-width="1"/>
<line x1="180.1" y1="546.2" x2="183.3" y2="546.2" stroke="#444" stroke-width="1"/>
<line x1="58.5" y1="554" x2="58.5" y2="565.6" stroke="#444" stroke-width="0.9"/>
<line x1="56.9" y1="554" x2="60.1" y2="554" stroke="#444" stroke-width="1"/>
<line x1="56.9" y1="565.6" x2="60.1" y2="565.6" stroke="#444" stroke-width="1"/>
<line x1="70.8" y1="551.9" x2="70.8" y2="563.3" stroke="#444" stroke-width="0.9"/>
<line x1="69.2" y1="551.9" x2="72.4" y2="551.9" stroke="#444" stroke-width="1"/>
<line x1="69.2" y1="563.3" x2="72.4" y2="563.3" stroke="#444" stroke-width="1"/>
<line x1="120.1" y1="545.4" x2="120.1" y2="557.6" stroke="#444" stroke-width="0.9"/>
<line x1="118.5" y1="545.4" x2="121.7" y2="545.4" stroke="#444" stroke-width="1"/>
<line x1="118.5" y1="557.6" x2="121.7" y2="557.6" stroke="#444" stroke-width="1"/>
<line x1="181.7" y1="538" x2="181.7" y2="553.3" stroke="#444" stroke-width="0.9"/>
<line x1="180.1" y1="538" x2="183.3" y2="538" stroke="#444" stroke-width="1"/>
<line x1="180.1" y1="553.3" x2="183.3" y2="553.3" stroke="#444" stroke-width="1"/>
<polyline points="58.5,559.9 70.8,557.6 120.1,551.4 181.7,545.7" fill="none" stroke="#333" stroke-width="0.9"/>
<polyline points="58.5,557.6 70.8,553.3 120.1,547.1 181.7,540.5" fill="none" stroke="#333" stroke-width="0.9"/>
<circle cx="58.5" cy="559.9" r="3.3" fill="#fff" stroke="#222" stroke-width="1"/>
<circle cx="70.8" cy="557.6" r="3.3" fill="#fff" stroke="#222" stroke-width="1"/>
<circle cx="120.1" cy="551.4" r="3.3" fill="#fff" stroke="#222" stroke-width="1"/>
<circle cx="181.7" cy="545.7" r="3.3" fill="#fff" stroke="#222" stroke-width="1"/>
<circle cx="58.5" cy="557.6" r="3.7" fill="#000"/>
<circle cx="70.8" cy="553.3" r="3.7" fill="#000"/>
<circle cx="120.1" cy="547.1" r="3.7" fill="#000"/>
<circle cx="181.7" cy="540.5" r="3.7" fill="#000"/>
<path d="M236.4 485.8 H390.4 V602.1" fill="none" stroke="#999" stroke-width="1"/>
<line x1="236.4" y1="485.8" x2="236.4" y2="602.1" stroke="#666" stroke-width="1"/>
<line x1="236.4" y1="602.1" x2="390.4" y2="602.1" stroke="#666" stroke-width="1"/>
<line x1="233.9" y1="602.1" x2="236.4" y2="602.1" stroke="#666" stroke-width="1"/>
<line x1="233.9" y1="573" x2="236.4" y2="573" stroke="#666" stroke-width="1"/>
<line x1="233.9" y1="544" x2="236.4" y2="544" stroke="#666" stroke-width="1"/>
<line x1="233.9" y1="514.9" x2="236.4" y2="514.9" stroke="#666" stroke-width="1"/>
<line x1="233.9" y1="485.8" x2="236.4" y2="485.8" stroke="#666" stroke-width="1"/>
<line x1="236.6" y1="602.1" x2="236.6" y2="604.6" stroke="#666" stroke-width="1"/>
<line x1="267.5" y1="602.1" x2="267.5" y2="604.6" stroke="#666" stroke-width="1"/>
<line x1="298.4" y1="602.1" x2="298.4" y2="604.6" stroke="#666" stroke-width="1"/>
<line x1="329.3" y1="602.1" x2="329.3" y2="604.6" stroke="#666" stroke-width="1"/>
<line x1="360.2" y1="602.1" x2="360.2" y2="604.6" stroke="#666" stroke-width="1"/>
<line x1="391.1" y1="602.1" x2="391.1" y2="604.6" stroke="#666" stroke-width="1"/>
<text x="233.3" y="606.6" font-size="13.3" text-anchor="end" fill="#111">0</text>
<text x="233.3" y="577.5" font-size="13.3" text-anchor="end" fill="#111">20</text>
<text x="233.3" y="548.5" font-size="13.3" text-anchor="end" fill="#111">40</text>
<text x="233.3" y="519.4" font-size="13.3" text-anchor="end" fill="#111">60</text>
<text x="233.3" y="490.3" font-size="13.3" text-anchor="end" fill="#111">80</text>
<text x="237.2" y="622" font-size="13" text-anchor="middle" fill="#111">0</text>
<text x="269.1" y="622" font-size="13" text-anchor="middle" fill="#111">25</text>
<text x="299.7" y="622" font-size="13" text-anchor="middle" fill="#111">50</text>
<text x="331.3" y="622" font-size="13" text-anchor="middle" fill="#111">75</text>
<text x="362.2" y="622" font-size="13" text-anchor="middle" fill="#111">100</text>
<text x="300.2" y="646.7" font-size="16" text-anchor="middle" fill="#111" textLength="86.5" lengthAdjust="spacingAndGlyphs">FasL (&#956;g/ml)</text>
<text x="244.9" y="504.8" font-size="14" font-weight="bold" text-anchor="start" fill="#000" textLength="25.6" lengthAdjust="spacingAndGlyphs">DCs</text>
<line x1="236.6" y1="553" x2="236.6" y2="567" stroke="#444" stroke-width="0.9"/>
<line x1="235" y1="553" x2="238.2" y2="553" stroke="#444" stroke-width="1"/>
<line x1="235" y1="567" x2="238.2" y2="567" stroke="#444" stroke-width="1"/>
<line x1="249" y1="547" x2="249" y2="560.2" stroke="#444" stroke-width="0.9"/>
<line x1="247.4" y1="547" x2="250.6" y2="547" stroke="#444" stroke-width="1"/>
<line x1="247.4" y1="560.2" x2="250.6" y2="560.2" stroke="#444" stroke-width="1"/>
<line x1="298.4" y1="525.3" x2="298.4" y2="540.7" stroke="#444" stroke-width="0.9"/>
<line x1="296.8" y1="525.3" x2="300" y2="525.3" stroke="#444" stroke-width="1"/>
<line x1="296.8" y1="540.7" x2="300" y2="540.7" stroke="#444" stroke-width="1"/>
<line x1="360.2" y1="492.1" x2="360.2" y2="518" stroke="#444" stroke-width="0.9"/>
<line x1="358.6" y1="492.1" x2="361.8" y2="492.1" stroke="#444" stroke-width="1"/>
<line x1="358.6" y1="518" x2="361.8" y2="518" stroke="#444" stroke-width="1"/>
<line x1="236.6" y1="569" x2="236.6" y2="581" stroke="#444" stroke-width="0.9"/>
<line x1="235" y1="569" x2="238.2" y2="569" stroke="#444" stroke-width="1"/>
<line x1="235" y1="581" x2="238.2" y2="581" stroke="#444" stroke-width="1"/>
<line x1="249" y1="565" x2="249" y2="575.2" stroke="#444" stroke-width="0.9"/>
<line x1="247.4" y1="565" x2="250.6" y2="565" stroke="#444" stroke-width="1"/>
<line x1="247.4" y1="575.2" x2="250.6" y2="575.2" stroke="#444" stroke-width="1"/>
<line x1="298.4" y1="548.9" x2="298.4" y2="567.9" stroke="#444" stroke-width="0.9"/>
<line x1="296.8" y1="548.9" x2="300" y2="548.9" stroke="#444" stroke-width="1"/>
<line x1="296.8" y1="567.9" x2="300" y2="567.9" stroke="#444" stroke-width="1"/>
<line x1="360.2" y1="544.6" x2="360.2" y2="558.6" stroke="#444" stroke-width="0.9"/>
<line x1="358.6" y1="544.6" x2="361.8" y2="544.6" stroke="#444" stroke-width="1"/>
<line x1="358.6" y1="558.6" x2="361.8" y2="558.6" stroke="#444" stroke-width="1"/>
<polyline points="236.6,574.9 249,570.2 298.4,558.6 360.2,551.9" fill="none" stroke="#333" stroke-width="0.9"/>
<polyline points="236.6,560.2 249,553.6 298.4,533 360.2,505.7" fill="none" stroke="#333" stroke-width="0.9"/>
<circle cx="236.6" cy="574.9" r="3.3" fill="#fff" stroke="#222" stroke-width="1"/>
<circle cx="249" cy="570.2" r="3.3" fill="#fff" stroke="#222" stroke-width="1"/>
<circle cx="298.4" cy="558.6" r="3.3" fill="#fff" stroke="#222" stroke-width="1"/>
<circle cx="360.2" cy="551.9" r="3.3" fill="#fff" stroke="#222" stroke-width="1"/>
<circle cx="236.6" cy="560.2" r="3.7" fill="#000"/>
<circle cx="249" cy="553.6" r="3.7" fill="#000"/>
<circle cx="298.4" cy="533" r="3.7" fill="#000"/>
<circle cx="360.2" cy="505.7" r="3.7" fill="#000"/>
<text x="298" y="520" font-size="15.5" font-weight="bold" text-anchor="middle" fill="#111">*</text>
<text x="352.2" y="500.1" font-size="15.5" font-weight="bold" text-anchor="middle" fill="#111">*</text>
<path d="M57.1 682.8 H211 V796.3" fill="none" stroke="#999" stroke-width="1"/>
<line x1="57.1" y1="682.8" x2="57.1" y2="796.3" stroke="#666" stroke-width="1"/>
<line x1="57.1" y1="796.3" x2="211" y2="796.3" stroke="#666" stroke-width="1"/>
<line x1="54.6" y1="796.3" x2="57.1" y2="796.3" stroke="#666" stroke-width="1"/>
<line x1="54.6" y1="767.9" x2="57.1" y2="767.9" stroke="#666" stroke-width="1"/>
<line x1="54.6" y1="739.5" x2="57.1" y2="739.5" stroke="#666" stroke-width="1"/>
<line x1="54.6" y1="711.2" x2="57.1" y2="711.2" stroke="#666" stroke-width="1"/>
<line x1="54.6" y1="682.8" x2="57.1" y2="682.8" stroke="#666" stroke-width="1"/>
<line x1="57.1" y1="796.3" x2="57.1" y2="798.8" stroke="#666" stroke-width="1"/>
<line x1="87.9" y1="796.3" x2="87.9" y2="798.8" stroke="#666" stroke-width="1"/>
<line x1="118.7" y1="796.3" x2="118.7" y2="798.8" stroke="#666" stroke-width="1"/>
<line x1="149.4" y1="796.3" x2="149.4" y2="798.8" stroke="#666" stroke-width="1"/>
<line x1="180.2" y1="796.3" x2="180.2" y2="798.8" stroke="#666" stroke-width="1"/>
<line x1="211" y1="796.3" x2="211" y2="798.8" stroke="#666" stroke-width="1"/>
<text x="52" y="800.8" font-size="13.3" text-anchor="end" fill="#111">0</text>
<text x="52" y="772.4" font-size="13.3" text-anchor="end" fill="#111">20</text>
<text x="52" y="744.1" font-size="13.3" text-anchor="end" fill="#111">40</text>
<text x="52" y="715.7" font-size="13.3" text-anchor="end" fill="#111">60</text>
<text x="52" y="687.3" font-size="13.3" text-anchor="end" fill="#111">80</text>
<text x="58.1" y="816.6" font-size="13" text-anchor="middle" fill="#111">0</text>
<text x="89.6" y="816.6" font-size="13" text-anchor="middle" fill="#111">25</text>
<text x="121" y="816.6" font-size="13" text-anchor="middle" fill="#111">50</text>
<text x="151.9" y="816.6" font-size="13" text-anchor="middle" fill="#111">75</text>
<text x="184" y="816.6" font-size="13" text-anchor="middle" fill="#111">100</text>
<text x="128.2" y="845" font-size="16" text-anchor="middle" fill="#111" textLength="101" lengthAdjust="spacingAndGlyphs">TRAIL (&#956;g/ml)</text>
<text x="24" y="743.5" font-size="16" text-anchor="middle" fill="#000" transform="rotate(-90 24 743.5)">Apoptosis (%)</text>
<text x="72.2" y="701.9" font-size="14" font-weight="bold" text-anchor="start" fill="#000" textLength="24" lengthAdjust="spacingAndGlyphs">M&#216;</text>
<line x1="57.1" y1="747" x2="57.1" y2="759" stroke="#444" stroke-width="0.9"/>
<line x1="55.5" y1="747" x2="58.7" y2="747" stroke="#444" stroke-width="1"/>
<line x1="55.5" y1="759" x2="58.7" y2="759" stroke="#444" stroke-width="1"/>
<line x1="69.4" y1="734.1" x2="69.4" y2="749" stroke="#444" stroke-width="0.9"/>
<line x1="67.8" y1="734.1" x2="71" y2="734.1" stroke="#444" stroke-width="1"/>
<line x1="67.8" y1="749" x2="71" y2="749" stroke="#444" stroke-width="1"/>
<line x1="118.7" y1="717.9" x2="118.7" y2="731.3" stroke="#444" stroke-width="0.9"/>
<line x1="117.1" y1="717.9" x2="120.2" y2="717.9" stroke="#444" stroke-width="1"/>
<line x1="117.1" y1="731.3" x2="120.2" y2="731.3" stroke="#444" stroke-width="1"/>
<line x1="180.2" y1="697.9" x2="180.2" y2="712.2" stroke="#444" stroke-width="0.9"/>
<line x1="178.6" y1="697.9" x2="181.8" y2="697.9" stroke="#444" stroke-width="1"/>
<line x1="178.6" y1="712.2" x2="181.8" y2="712.2" stroke="#444" stroke-width="1"/>
<line x1="57.1" y1="750" x2="57.1" y2="760.6" stroke="#444" stroke-width="0.9"/>
<line x1="55.5" y1="750" x2="58.7" y2="750" stroke="#444" stroke-width="1"/>
<line x1="55.5" y1="760.6" x2="58.7" y2="760.6" stroke="#444" stroke-width="1"/>
<line x1="69.4" y1="747" x2="69.4" y2="757" stroke="#444" stroke-width="0.9"/>
<line x1="67.8" y1="747" x2="71" y2="747" stroke="#444" stroke-width="1"/>
<line x1="67.8" y1="757" x2="71" y2="757" stroke="#444" stroke-width="1"/>
<line x1="118.7" y1="737" x2="118.7" y2="748.6" stroke="#444" stroke-width="0.9"/>
<line x1="117.1" y1="737" x2="120.2" y2="737" stroke="#444" stroke-width="1"/>
<line x1="117.1" y1="748.6" x2="120.2" y2="748.6" stroke="#444" stroke-width="1"/>
<line x1="180.2" y1="731.3" x2="180.2" y2="743.5" stroke="#444" stroke-width="0.9"/>
<line x1="178.6" y1="731.3" x2="181.8" y2="731.3" stroke="#444" stroke-width="1"/>
<line x1="178.6" y1="743.5" x2="181.8" y2="743.5" stroke="#444" stroke-width="1"/>
<polyline points="57.1,755.5 69.4,752.1 118.7,742.9 180.2,737.8" fill="none" stroke="#333" stroke-width="0.9"/>
<polyline points="57.1,753.2 69.4,741.8 118.7,724.7 180.2,704.8" fill="none" stroke="#333" stroke-width="0.9"/>
<circle cx="57.1" cy="755.5" r="3.3" fill="#fff" stroke="#222" stroke-width="1"/>
<circle cx="69.4" cy="752.1" r="3.3" fill="#fff" stroke="#222" stroke-width="1"/>
<circle cx="118.7" cy="742.9" r="3.3" fill="#fff" stroke="#222" stroke-width="1"/>
<circle cx="180.2" cy="737.8" r="3.3" fill="#fff" stroke="#222" stroke-width="1"/>
<circle cx="57.1" cy="753.2" r="3.7" fill="#000"/>
<circle cx="69.4" cy="741.8" r="3.7" fill="#000"/>
<circle cx="118.7" cy="724.7" r="3.7" fill="#000"/>
<circle cx="180.2" cy="704.8" r="3.7" fill="#000"/>
<text x="118.3" y="715.5" font-size="15.5" font-weight="bold" text-anchor="middle" fill="#111">*</text>
<text x="176.8" y="701.2" font-size="15.5" font-weight="bold" text-anchor="middle" fill="#111">*</text>
<path d="M236.4 683.2 H390.4 V799.5" fill="none" stroke="#999" stroke-width="1"/>
<line x1="236.4" y1="683.2" x2="236.4" y2="799.5" stroke="#666" stroke-width="1"/>
<line x1="236.4" y1="799.5" x2="390.4" y2="799.5" stroke="#666" stroke-width="1"/>
<line x1="233.9" y1="799.5" x2="236.4" y2="799.5" stroke="#666" stroke-width="1"/>
<line x1="233.9" y1="770.4" x2="236.4" y2="770.4" stroke="#666" stroke-width="1"/>
<line x1="233.9" y1="741.4" x2="236.4" y2="741.4" stroke="#666" stroke-width="1"/>
<line x1="233.9" y1="712.3" x2="236.4" y2="712.3" stroke="#666" stroke-width="1"/>
<line x1="233.9" y1="683.2" x2="236.4" y2="683.2" stroke="#666" stroke-width="1"/>
<line x1="236.6" y1="799.5" x2="236.6" y2="802" stroke="#666" stroke-width="1"/>
<line x1="267.5" y1="799.5" x2="267.5" y2="802" stroke="#666" stroke-width="1"/>
<line x1="298.4" y1="799.5" x2="298.4" y2="802" stroke="#666" stroke-width="1"/>
<line x1="329.3" y1="799.5" x2="329.3" y2="802" stroke="#666" stroke-width="1"/>
<line x1="360.2" y1="799.5" x2="360.2" y2="802" stroke="#666" stroke-width="1"/>
<line x1="391.1" y1="799.5" x2="391.1" y2="802" stroke="#666" stroke-width="1"/>
<text x="233.3" y="804" font-size="13.3" text-anchor="end" fill="#111">0</text>
<text x="233.3" y="774.9" font-size="13.3" text-anchor="end" fill="#111">20</text>
<text x="233.3" y="745.9" font-size="13.3" text-anchor="end" fill="#111">40</text>
<text x="233.3" y="716.8" font-size="13.3" text-anchor="end" fill="#111">60</text>
<text x="233.3" y="687.7" font-size="13.3" text-anchor="end" fill="#111">80</text>
<text x="237.2" y="817.7" font-size="13" text-anchor="middle" fill="#111">0</text>
<text x="269.1" y="817.7" font-size="13" text-anchor="middle" fill="#111">25</text>
<text x="299.7" y="817.7" font-size="13" text-anchor="middle" fill="#111">50</text>
<text x="331.3" y="817.7" font-size="13" text-anchor="middle" fill="#111">75</text>
<text x="362.2" y="817.7" font-size="13" text-anchor="middle" fill="#111">100</text>
<text x="308.9" y="844.3" font-size="16" text-anchor="middle" fill="#111" textLength="101" lengthAdjust="spacingAndGlyphs">TRAIL (&#956;g/ml)</text>
<text x="244.9" y="701.5" font-size="14" font-weight="bold" text-anchor="start" fill="#000" textLength="25.6" lengthAdjust="spacingAndGlyphs">DCs</text>
<line x1="236.6" y1="752" x2="236.6" y2="763" stroke="#444" stroke-width="0.9"/>
<line x1="235" y1="752" x2="238.2" y2="752" stroke="#444" stroke-width="1"/>
<line x1="235" y1="763" x2="238.2" y2="763" stroke="#444" stroke-width="1"/>
<line x1="249" y1="748.6" x2="249" y2="760" stroke="#444" stroke-width="0.9"/>
<line x1="247.4" y1="748.6" x2="250.6" y2="748.6" stroke="#444" stroke-width="1"/>
<line x1="247.4" y1="760" x2="250.6" y2="760" stroke="#444" stroke-width="1"/>
<line x1="298.4" y1="748" x2="298.4" y2="758.5" stroke="#444" stroke-width="0.9"/>
<line x1="296.8" y1="748" x2="300" y2="748" stroke="#444" stroke-width="1"/>
<line x1="296.8" y1="758.5" x2="300" y2="758.5" stroke="#444" stroke-width="1"/>
<line x1="360.2" y1="742.3" x2="360.2" y2="755" stroke="#444" stroke-width="0.9"/>
<line x1="358.6" y1="742.3" x2="361.8" y2="742.3" stroke="#444" stroke-width="1"/>
<line x1="358.6" y1="755" x2="361.8" y2="755" stroke="#444" stroke-width="1"/>
<line x1="236.6" y1="765" x2="236.6" y2="779" stroke="#444" stroke-width="0.9"/>
<line x1="235" y1="765" x2="238.2" y2="765" stroke="#444" stroke-width="1"/>
<line x1="235" y1="779" x2="238.2" y2="779" stroke="#444" stroke-width="1"/>
<line x1="249" y1="760" x2="249" y2="774.5" stroke="#444" stroke-width="0.9"/>
<line x1="247.4" y1="760" x2="250.6" y2="760" stroke="#444" stroke-width="1"/>
<line x1="247.4" y1="774.5" x2="250.6" y2="774.5" stroke="#444" stroke-width="1"/>
<line x1="298.4" y1="760" x2="298.4" y2="777.5" stroke="#444" stroke-width="0.9"/>
<line x1="296.8" y1="760" x2="300" y2="760" stroke="#444" stroke-width="1"/>
<line x1="296.8" y1="777.5" x2="300" y2="777.5" stroke="#444" stroke-width="1"/>
<line x1="360.2" y1="757" x2="360.2" y2="772" stroke="#444" stroke-width="0.9"/>
<line x1="358.6" y1="757" x2="361.8" y2="757" stroke="#444" stroke-width="1"/>
<line x1="358.6" y1="772" x2="361.8" y2="772" stroke="#444" stroke-width="1"/>
<polyline points="236.6,771.9 249,766.9 298.4,768.6 360.2,764.6" fill="none" stroke="#333" stroke-width="0.9"/>
<polyline points="236.6,757.3 249,754 298.4,753 360.2,748.6" fill="none" stroke="#333" stroke-width="0.9"/>
<circle cx="236.6" cy="771.9" r="3.3" fill="#fff" stroke="#222" stroke-width="1"/>
<circle cx="249" cy="766.9" r="3.3" fill="#fff" stroke="#222" stroke-width="1"/>
<circle cx="298.4" cy="768.6" r="3.3" fill="#fff" stroke="#222" stroke-width="1"/>
<circle cx="360.2" cy="764.6" r="3.3" fill="#fff" stroke="#222" stroke-width="1"/>
<circle cx="236.6" cy="757.3" r="3.7" fill="#000"/>
<circle cx="249" cy="754" r="3.7" fill="#000"/>
<circle cx="298.4" cy="753" r="3.7" fill="#000"/>
<circle cx="360.2" cy="748.6" r="3.7" fill="#000"/>
<rect x="349.2" y="443.5" width="63.8" height="41.8" fill="#fff" stroke="#111" stroke-width="1.3"/>
<circle cx="360" cy="453.4" r="3.5" fill="#fff" stroke="#111" stroke-width="1"/>
<circle cx="360" cy="473.2" r="3.9" fill="#000"/>
<text x="373.5" y="459.7" font-size="13.5" font-weight="bold" text-anchor="start" fill="#000" textLength="33.3" lengthAdjust="spacingAndGlyphs">Mock</text>
<text x="373.5" y="479.9" font-size="13.5" font-weight="bold" text-anchor="start" fill="#000" textLength="36.4" lengthAdjust="spacingAndGlyphs">HIV-1</text>
<rect x="349.5" y="641.7" width="63.2" height="41.5" fill="#fff" stroke="#111" stroke-width="1.3"/>
<circle cx="360.3" cy="651.6" r="3.5" fill="#fff" stroke="#111" stroke-width="1"/>
<circle cx="360.3" cy="671.6" r="3.9" fill="#000"/>
<text x="373.8" y="658.3" font-size="13.5" font-weight="bold" text-anchor="start" fill="#000" textLength="33.3" lengthAdjust="spacingAndGlyphs">Mock</text>
<text x="373.8" y="678.2" font-size="13.5" font-weight="bold" text-anchor="start" fill="#000" textLength="36.4" lengthAdjust="spacingAndGlyphs">HIV-1</text>
<path d="M489.9 484.9 H575.6 V542.9" fill="none" stroke="#888" stroke-width="1"/>
<line x1="489.9" y1="484.9" x2="489.9" y2="542.9" stroke="#555" stroke-width="1"/>
<line x1="489.9" y1="542.9" x2="575.6" y2="542.9" stroke="#555" stroke-width="1"/>
<line x1="511.4" y1="525.2" x2="511.4" y2="522.5" stroke="#111" stroke-width="1"/>
<line x1="508.6" y1="522.5" x2="514.2" y2="522.5" stroke="#111" stroke-width="1"/>
<rect x="506" y="525.2" width="10.9" height="17.7" fill="#000" stroke="none" stroke-width="1"/>
<line x1="525.6" y1="508.1" x2="525.6" y2="504.4" stroke="#111" stroke-width="1"/>
<line x1="522.9" y1="504.4" x2="528.4" y2="504.4" stroke="#111" stroke-width="1"/>
<rect x="520.4" y="508.1" width="10.5" height="34.8" fill="#000" stroke="none" stroke-width="1"/>
<line x1="539.5" y1="526.3" x2="539.5" y2="524.1" stroke="#111" stroke-width="1"/>
<line x1="536.7" y1="524.1" x2="542.3" y2="524.1" stroke="#111" stroke-width="1"/>
<rect x="534.2" y="526.3" width="10.6" height="16.6" fill="#000" stroke="none" stroke-width="1"/>
<line x1="553.9" y1="508.6" x2="553.9" y2="505.3" stroke="#111" stroke-width="1"/>
<line x1="551.1" y1="505.3" x2="556.7" y2="505.3" stroke="#111" stroke-width="1"/>
<rect x="548.6" y="508.6" width="10.6" height="34.3" fill="#000" stroke="none" stroke-width="1"/>
<line x1="487.9" y1="496.6" x2="489.9" y2="496.6" stroke="#555" stroke-width="1"/>
<text x="485" y="501.5" font-size="14" text-anchor="end" fill="#111">80</text>
<line x1="487.9" y1="508.2" x2="489.9" y2="508.2" stroke="#555" stroke-width="1"/>
<text x="485" y="513.5" font-size="14" text-anchor="end" fill="#111">60</text>
<line x1="487.9" y1="519.8" x2="489.9" y2="519.8" stroke="#555" stroke-width="1"/>
<text x="485" y="525.4" font-size="14" text-anchor="end" fill="#111">40</text>
<line x1="487.9" y1="531.3" x2="489.9" y2="531.3" stroke="#555" stroke-width="1"/>
<text x="485" y="537.8" font-size="14" text-anchor="end" fill="#111">20</text>
<line x1="487.9" y1="542.9" x2="489.9" y2="542.9" stroke="#555" stroke-width="1"/>
<text x="485" y="550" font-size="14" text-anchor="end" fill="#111">0</text>
<path d="M489.9 568.9 H575.4 V627.2" fill="none" stroke="#888" stroke-width="1"/>
<line x1="489.9" y1="568.9" x2="489.9" y2="627.2" stroke="#555" stroke-width="1"/>
<line x1="489.9" y1="627.2" x2="575.4" y2="627.2" stroke="#555" stroke-width="1"/>
<line x1="511.4" y1="606.8" x2="511.4" y2="603.1" stroke="#111" stroke-width="1"/>
<line x1="508.6" y1="603.1" x2="514.2" y2="603.1" stroke="#111" stroke-width="1"/>
<rect x="506" y="606.8" width="10.9" height="20.4" fill="#000" stroke="none" stroke-width="1"/>
<line x1="525.6" y1="590.1" x2="525.6" y2="585.5" stroke="#111" stroke-width="1"/>
<line x1="522.9" y1="585.5" x2="528.4" y2="585.5" stroke="#111" stroke-width="1"/>
<rect x="520.4" y="590.1" width="10.5" height="37.1" fill="#000" stroke="none" stroke-width="1"/>
<line x1="539.5" y1="606.4" x2="539.5" y2="603.1" stroke="#111" stroke-width="1"/>
<line x1="536.7" y1="603.1" x2="542.3" y2="603.1" stroke="#111" stroke-width="1"/>
<rect x="534.2" y="606.4" width="10.6" height="20.8" fill="#000" stroke="none" stroke-width="1"/>
<line x1="553.9" y1="591.2" x2="553.9" y2="587.6" stroke="#111" stroke-width="1"/>
<line x1="551.1" y1="587.6" x2="556.7" y2="587.6" stroke="#111" stroke-width="1"/>
<rect x="548.6" y="591.2" width="10.6" height="36" fill="#000" stroke="none" stroke-width="1"/>
<line x1="487.9" y1="580.7" x2="489.9" y2="580.7" stroke="#555" stroke-width="1"/>
<text x="485" y="585.5" font-size="14" text-anchor="end" fill="#111">80</text>
<line x1="487.9" y1="592.3" x2="489.9" y2="592.3" stroke="#555" stroke-width="1"/>
<text x="485" y="597.8" font-size="14" text-anchor="end" fill="#111">60</text>
<line x1="487.9" y1="604" x2="489.9" y2="604" stroke="#555" stroke-width="1"/>
<text x="485" y="609.8" font-size="14" text-anchor="end" fill="#111">40</text>
<line x1="487.9" y1="615.6" x2="489.9" y2="615.6" stroke="#555" stroke-width="1"/>
<text x="485" y="621.7" font-size="14" text-anchor="end" fill="#111">20</text>
<line x1="487.9" y1="627.2" x2="489.9" y2="627.2" stroke="#555" stroke-width="1"/>
<text x="485" y="633.5" font-size="14" text-anchor="end" fill="#111">0</text>
<text x="500.5" y="501.5" font-size="13.5" font-weight="bold" text-anchor="start" fill="#000" textLength="23" lengthAdjust="spacingAndGlyphs">M&#216;</text>
<text x="500" y="583.9" font-size="13.5" font-weight="bold" text-anchor="start" fill="#000" textLength="25.5" lengthAdjust="spacingAndGlyphs">DCs</text>
<text x="463.5" y="552.3" font-size="14" font-weight="bold" text-anchor="middle" fill="#000" transform="rotate(-90 463.5 552.3)">Apoptosis (%)</text>
<rect x="510.5" y="550" width="4.2" height="1.4" fill="#111" stroke="none" stroke-width="1"/>
<rect x="522.2" y="548.9" width="7.4" height="1.2" fill="#111" stroke="none" stroke-width="1"/>
<rect x="525.3" y="545.9" width="1.2" height="7.2" fill="#111" stroke="none" stroke-width="1"/>
<rect x="538.5" y="550" width="4.2" height="1.4" fill="#111" stroke="none" stroke-width="1"/>
<rect x="550.2" y="548.9" width="7.4" height="1.2" fill="#111" stroke="none" stroke-width="1"/>
<rect x="553.3" y="545.9" width="1.2" height="7.2" fill="#111" stroke="none" stroke-width="1"/>
<rect x="510.5" y="564.1" width="4.2" height="1.4" fill="#111" stroke="none" stroke-width="1"/>
<rect x="522.4" y="564.1" width="4.2" height="1.4" fill="#111" stroke="none" stroke-width="1"/>
<rect x="538.5" y="562.8" width="7.4" height="1.2" fill="#111" stroke="none" stroke-width="1"/>
<rect x="541.6" y="559.8" width="1.2" height="7.2" fill="#111" stroke="none" stroke-width="1"/>
<rect x="550.2" y="562.8" width="7.4" height="1.2" fill="#111" stroke="none" stroke-width="1"/>
<rect x="553.3" y="559.8" width="1.2" height="7.2" fill="#111" stroke="none" stroke-width="1"/>
<rect x="510.5" y="637.4" width="4.2" height="1.4" fill="#111" stroke="none" stroke-width="1"/>
<rect x="522.2" y="636.1" width="7.4" height="1.2" fill="#111" stroke="none" stroke-width="1"/>
<rect x="525.3" y="633.1" width="1.2" height="7.2" fill="#111" stroke="none" stroke-width="1"/>
<rect x="538.5" y="637.4" width="4.2" height="1.4" fill="#111" stroke="none" stroke-width="1"/>
<rect x="550.2" y="636.1" width="7.4" height="1.2" fill="#111" stroke="none" stroke-width="1"/>
<rect x="553.3" y="633.1" width="1.2" height="7.2" fill="#111" stroke="none" stroke-width="1"/>
<rect x="510.5" y="651.6" width="4.2" height="1.4" fill="#111" stroke="none" stroke-width="1"/>
<rect x="522.4" y="651.6" width="4.2" height="1.4" fill="#111" stroke="none" stroke-width="1"/>
<rect x="538.5" y="650.2" width="7.4" height="1.2" fill="#111" stroke="none" stroke-width="1"/>
<rect x="541.6" y="647.2" width="1.2" height="7.2" fill="#111" stroke="none" stroke-width="1"/>
<rect x="550.2" y="650.2" width="7.4" height="1.2" fill="#111" stroke="none" stroke-width="1"/>
<rect x="553.3" y="647.2" width="1.2" height="7.2" fill="#111" stroke="none" stroke-width="1"/>
<text x="572.7" y="555" font-size="13" text-anchor="start" fill="#111" textLength="33.8" lengthAdjust="spacingAndGlyphs">TRAIL</text>
<text x="572.7" y="566.3" font-size="13" text-anchor="start" fill="#111" textLength="15" lengthAdjust="spacingAndGlyphs">ddI</text>
<text x="572.7" y="641.9" font-size="13" text-anchor="start" fill="#111" textLength="23" lengthAdjust="spacingAndGlyphs">FasL</text>
<text x="572.7" y="654.5" font-size="13" text-anchor="start" fill="#111" textLength="15" lengthAdjust="spacingAndGlyphs">ddI</text>
<path d="M489.8 682.1 H575.8 V741.4" fill="none" stroke="#888" stroke-width="1"/>
<line x1="489.8" y1="682.1" x2="489.8" y2="741.4" stroke="#555" stroke-width="1"/>
<line x1="489.8" y1="741.4" x2="575.8" y2="741.4" stroke="#555" stroke-width="1"/>
<line x1="508.9" y1="708.2" x2="508.9" y2="702.3" stroke="#111" stroke-width="1"/>
<line x1="506.1" y1="702.3" x2="511.7" y2="702.3" stroke="#111" stroke-width="1"/>
<rect x="503.6" y="708.2" width="10.5" height="33.2" fill="#000" stroke="none" stroke-width="1"/>
<line x1="532.9" y1="701.1" x2="532.9" y2="697.5" stroke="#111" stroke-width="1"/>
<line x1="530.1" y1="697.5" x2="535.7" y2="697.5" stroke="#111" stroke-width="1"/>
<rect x="527.8" y="701.1" width="10.2" height="40.3" fill="#000" stroke="none" stroke-width="1"/>
<line x1="557.2" y1="731.9" x2="557.2" y2="729.1" stroke="#111" stroke-width="1"/>
<line x1="554.5" y1="729.1" x2="560" y2="729.1" stroke="#111" stroke-width="1"/>
<rect x="552.3" y="731.9" width="9.9" height="9.5" fill="#000" stroke="none" stroke-width="1"/>
<line x1="487.8" y1="682.1" x2="489.8" y2="682.1" stroke="#555" stroke-width="1"/>
<text x="487.5" y="688.3" font-size="14" text-anchor="end" fill="#111">80</text>
<line x1="487.8" y1="696.9" x2="489.8" y2="696.9" stroke="#555" stroke-width="1"/>
<text x="487.5" y="703" font-size="14" text-anchor="end" fill="#111">60</text>
<line x1="487.8" y1="711.7" x2="489.8" y2="711.7" stroke="#555" stroke-width="1"/>
<text x="487.5" y="717.3" font-size="14" text-anchor="end" fill="#111">40</text>
<line x1="487.8" y1="726.6" x2="489.8" y2="726.6" stroke="#555" stroke-width="1"/>
<text x="487.5" y="732" font-size="14" text-anchor="end" fill="#111">20</text>
<line x1="487.8" y1="741.4" x2="489.8" y2="741.4" stroke="#555" stroke-width="1"/>
<text x="487.5" y="746.9" font-size="14" text-anchor="end" fill="#111">0</text>
<path d="M489.8 759.5 H575.3 V818.8" fill="none" stroke="#888" stroke-width="1"/>
<line x1="489.8" y1="759.5" x2="489.8" y2="818.8" stroke="#555" stroke-width="1"/>
<line x1="489.8" y1="818.8" x2="575.3" y2="818.8" stroke="#555" stroke-width="1"/>
<line x1="508.9" y1="796.3" x2="508.9" y2="792.2" stroke="#111" stroke-width="1"/>
<line x1="506.1" y1="792.2" x2="511.7" y2="792.2" stroke="#111" stroke-width="1"/>
<rect x="503.6" y="796.3" width="10.5" height="22.5" fill="#000" stroke="none" stroke-width="1"/>
<line x1="532.9" y1="816.5" x2="532.9" y2="814.1" stroke="#111" stroke-width="1"/>
<line x1="530.1" y1="814.1" x2="535.7" y2="814.1" stroke="#111" stroke-width="1"/>
<rect x="527.8" y="816.5" width="10.2" height="2.3" fill="#000" stroke="none" stroke-width="1"/>
<line x1="557.2" y1="774.9" x2="557.2" y2="770.9" stroke="#111" stroke-width="1"/>
<line x1="554.5" y1="770.9" x2="560" y2="770.9" stroke="#111" stroke-width="1"/>
<rect x="552.3" y="774.9" width="9.9" height="43.9" fill="#000" stroke="none" stroke-width="1"/>
<line x1="487.8" y1="759.5" x2="489.8" y2="759.5" stroke="#555" stroke-width="1"/>
<text x="487.5" y="765.5" font-size="14" text-anchor="end" fill="#111">80</text>
<line x1="487.8" y1="774.3" x2="489.8" y2="774.3" stroke="#555" stroke-width="1"/>
<text x="487.5" y="780.4" font-size="14" text-anchor="end" fill="#111">60</text>
<line x1="487.8" y1="789.2" x2="489.8" y2="789.2" stroke="#555" stroke-width="1"/>
<text x="487.5" y="795.6" font-size="14" text-anchor="end" fill="#111">40</text>
<line x1="487.8" y1="804" x2="489.8" y2="804" stroke="#555" stroke-width="1"/>
<text x="487.5" y="810.6" font-size="14" text-anchor="end" fill="#111">20</text>
<line x1="487.8" y1="818.8" x2="489.8" y2="818.8" stroke="#555" stroke-width="1"/>
<text x="487.5" y="824.8" font-size="14" text-anchor="end" fill="#111">0</text>
<text x="508.8" y="704" font-size="15.5" font-weight="bold" text-anchor="middle" fill="#111">*</text>
<text x="533.3" y="698.6" font-size="15.5" font-weight="bold" text-anchor="middle" fill="#111">*</text>
<text x="508.8" y="793.8" font-size="15.5" font-weight="bold" text-anchor="middle" fill="#111">*</text>
<text x="557" y="773.1" font-size="15.5" font-weight="bold" text-anchor="middle" fill="#111">*</text>
<text x="548.7" y="698.7" font-size="13.5" font-weight="bold" text-anchor="start" fill="#000" textLength="23" lengthAdjust="spacingAndGlyphs">M&#216;</text>
<text x="499.3" y="776.1" font-size="13.5" font-weight="bold" text-anchor="start" fill="#000" textLength="25.7" lengthAdjust="spacingAndGlyphs">DCs</text>
<text x="461.5" y="752.7" font-size="14" font-weight="bold" text-anchor="middle" fill="#000" transform="rotate(-90 461.5 752.7)">Preventive effect (%)</text>
<text x="515" y="829.1" font-size="11.4" text-anchor="end" fill="#111" transform="rotate(-45 515 829.1)">TNF-R1</text>
<text x="541.3" y="829.1" font-size="11.8" text-anchor="end" fill="#111" transform="rotate(-45 541.3 829.1)">Trail-R1/R2</text>
<text x="562.6" y="829.1" font-size="11.4" text-anchor="end" fill="#111" transform="rotate(-45 562.6 829.1)">Fas-Fc</text>
</svg>
</body></html>
